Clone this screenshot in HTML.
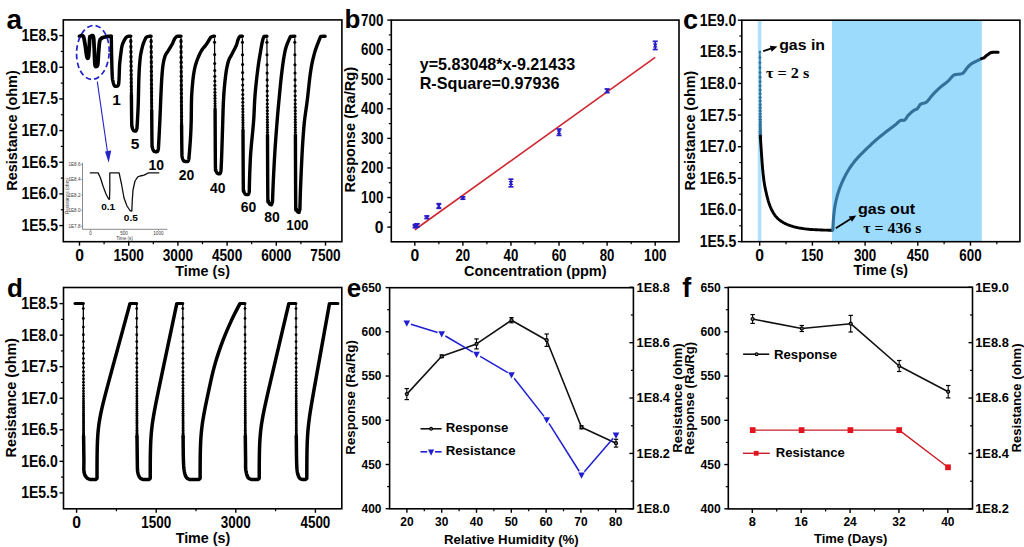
<!DOCTYPE html>
<html><head><meta charset="utf-8"><style>
html,body{margin:0;padding:0;background:#fff;width:1024px;height:547px;overflow:hidden}
svg{display:block}
</style></head><body>
<svg width="1024" height="547" viewBox="0 0 1024 547">
<rect x="0" y="0" width="1024" height="547" fill="#fff"/>
<text x="6.5" y="29.3" font-family='"Liberation Sans", sans-serif' font-size="28" font-weight="bold" text-anchor="start" fill="#000">a</text>
<line x1="59.3" y1="35.6" x2="63.3" y2="35.6" stroke="#000" stroke-width="1.4"/>
<text x="58" y="41.1" font-family='"Liberation Sans", sans-serif' font-size="15.7" font-weight="bold" text-anchor="end" fill="#000" textLength="36.6" lengthAdjust="spacingAndGlyphs">1E8.5</text>
<line x1="59.3" y1="67.27" x2="63.3" y2="67.27" stroke="#000" stroke-width="1.4"/>
<text x="58" y="72.77" font-family='"Liberation Sans", sans-serif' font-size="15.7" font-weight="bold" text-anchor="end" fill="#000" textLength="36.6" lengthAdjust="spacingAndGlyphs">1E8.0</text>
<line x1="59.3" y1="98.93" x2="63.3" y2="98.93" stroke="#000" stroke-width="1.4"/>
<text x="58" y="104.43" font-family='"Liberation Sans", sans-serif' font-size="15.7" font-weight="bold" text-anchor="end" fill="#000" textLength="36.6" lengthAdjust="spacingAndGlyphs">1E7.5</text>
<line x1="59.3" y1="130.59" x2="63.3" y2="130.59" stroke="#000" stroke-width="1.4"/>
<text x="58" y="136.09" font-family='"Liberation Sans", sans-serif' font-size="15.7" font-weight="bold" text-anchor="end" fill="#000" textLength="36.6" lengthAdjust="spacingAndGlyphs">1E7.0</text>
<line x1="59.3" y1="162.26" x2="63.3" y2="162.26" stroke="#000" stroke-width="1.4"/>
<text x="58" y="167.76" font-family='"Liberation Sans", sans-serif' font-size="15.7" font-weight="bold" text-anchor="end" fill="#000" textLength="36.6" lengthAdjust="spacingAndGlyphs">1E6.5</text>
<line x1="59.3" y1="193.92" x2="63.3" y2="193.92" stroke="#000" stroke-width="1.4"/>
<text x="58" y="199.42" font-family='"Liberation Sans", sans-serif' font-size="15.7" font-weight="bold" text-anchor="end" fill="#000" textLength="36.6" lengthAdjust="spacingAndGlyphs">1E6.0</text>
<line x1="59.3" y1="225.59" x2="63.3" y2="225.59" stroke="#000" stroke-width="1.4"/>
<text x="58" y="231.09" font-family='"Liberation Sans", sans-serif' font-size="15.7" font-weight="bold" text-anchor="end" fill="#000" textLength="36.6" lengthAdjust="spacingAndGlyphs">1E5.5</text>
<line x1="60.8" y1="51.43" x2="63.3" y2="51.43" stroke="#000" stroke-width="1.2"/>
<line x1="60.8" y1="83.1" x2="63.3" y2="83.1" stroke="#000" stroke-width="1.2"/>
<line x1="60.8" y1="114.76" x2="63.3" y2="114.76" stroke="#000" stroke-width="1.2"/>
<line x1="60.8" y1="146.43" x2="63.3" y2="146.43" stroke="#000" stroke-width="1.2"/>
<line x1="60.8" y1="178.09" x2="63.3" y2="178.09" stroke="#000" stroke-width="1.2"/>
<line x1="60.8" y1="209.76" x2="63.3" y2="209.76" stroke="#000" stroke-width="1.2"/>
<line x1="79.5" y1="241.7" x2="79.5" y2="245.7" stroke="#000" stroke-width="1.4"/>
<text x="79.5" y="260.9" font-family='"Liberation Sans", sans-serif' font-size="15.7" font-weight="bold" text-anchor="middle" fill="#000">0</text>
<line x1="128.7" y1="241.7" x2="128.7" y2="245.7" stroke="#000" stroke-width="1.4"/>
<text x="128.7" y="260.9" font-family='"Liberation Sans", sans-serif' font-size="15.7" font-weight="bold" text-anchor="middle" fill="#000" textLength="30.3" lengthAdjust="spacingAndGlyphs">1500</text>
<line x1="177.9" y1="241.7" x2="177.9" y2="245.7" stroke="#000" stroke-width="1.4"/>
<text x="177.9" y="260.9" font-family='"Liberation Sans", sans-serif' font-size="15.7" font-weight="bold" text-anchor="middle" fill="#000" textLength="30.3" lengthAdjust="spacingAndGlyphs">3000</text>
<line x1="227.1" y1="241.7" x2="227.1" y2="245.7" stroke="#000" stroke-width="1.4"/>
<text x="227.1" y="260.9" font-family='"Liberation Sans", sans-serif' font-size="15.7" font-weight="bold" text-anchor="middle" fill="#000" textLength="30.3" lengthAdjust="spacingAndGlyphs">4500</text>
<line x1="276.3" y1="241.7" x2="276.3" y2="245.7" stroke="#000" stroke-width="1.4"/>
<text x="276.3" y="260.9" font-family='"Liberation Sans", sans-serif' font-size="15.7" font-weight="bold" text-anchor="middle" fill="#000" textLength="30.3" lengthAdjust="spacingAndGlyphs">6000</text>
<line x1="325.5" y1="241.7" x2="325.5" y2="245.7" stroke="#000" stroke-width="1.4"/>
<text x="325.5" y="260.9" font-family='"Liberation Sans", sans-serif' font-size="15.7" font-weight="bold" text-anchor="middle" fill="#000" textLength="30.3" lengthAdjust="spacingAndGlyphs">7500</text>
<line x1="104.1" y1="241.7" x2="104.1" y2="244.2" stroke="#000" stroke-width="1.2"/>
<line x1="153.3" y1="241.7" x2="153.3" y2="244.2" stroke="#000" stroke-width="1.2"/>
<line x1="202.5" y1="241.7" x2="202.5" y2="244.2" stroke="#000" stroke-width="1.2"/>
<line x1="251.7" y1="241.7" x2="251.7" y2="244.2" stroke="#000" stroke-width="1.2"/>
<line x1="300.9" y1="241.7" x2="300.9" y2="244.2" stroke="#000" stroke-width="1.2"/>
<text x="202.6" y="275.6" font-family='"Liberation Sans", sans-serif' font-size="14.4" font-weight="bold" text-anchor="middle" fill="#000" textLength="54.7" lengthAdjust="spacingAndGlyphs">Time (s)</text>
<text x="16.6" y="130.5" font-family='"Liberation Sans", sans-serif' font-size="14.4" font-weight="bold" text-anchor="middle" fill="#000" textLength="120.5" lengthAdjust="spacingAndGlyphs" transform="rotate(-90 16.6 130.5)">Resistance (ohm)</text>
<path d="M79.5 36.2 L80.2 35.97 L81.22 35.59 L82.3 35.51 L83.2 36.2 L83.85 37.94 L84.39 40.44 L84.85 43.27 L85.3 46 L85.72 48.8 L86.09 51.8 L86.44 54.53 L86.8 56.5 L87.19 57.66 L87.59 58.25 L87.97 58.21 L88.3 57.5 L88.57 55.89 L88.81 53.47 L89.01 50.69 L89.2 48 L89.36 45.22 L89.49 42.22 L89.63 39.48 L89.8 37.5 L89.99 36.56 L90.18 36.34 L90.44 36.46 L90.8 36.5 L91.36 36.16 L92.06 35.72 L92.75 35.67 L93.3 36.5 L93.64 38.45 L93.86 41.22 L94.02 44.5 L94.2 48 L94.39 52.12 L94.56 56.86 L94.75 61.29 L95 64.5 L95.33 66.08 L95.72 66.57 L96.12 66.48 L96.5 66.3 L96.85 66.24 L97.19 66.01 L97.51 65.35 L97.8 64 L98.03 61.66 L98.21 58.54 L98.39 55.16 L98.6 52 L98.84 48.98 L99.09 45.91 L99.37 43.14 L99.7 41 L100.11 39.72 L100.58 39.07 L101.05 38.73 L101.5 38.4 L101.84 38.06 L102.11 37.84 L102.46 37.69 L103 37.5 L103.82 37.26 L104.83 37.01 L105.93 36.78 L107 36.6 L108.13 36.48 L109.35 36.39 L110.44 36.34 L111.2 36.3" fill="none" stroke="#000" stroke-width="3.8" stroke-linejoin="round" stroke-linecap="round"/>
<path d="M111.3 36.3 L111.33 38.32 L111.37 41.1 L111.41 44.4 L111.47 47.98 L111.53 51.59 L111.6 55 L111.68 58.41 L111.77 62.07 L111.87 65.76 L111.97 69.29 L112.08 72.43 L112.2 75 L112.31 76.89 L112.43 78.25 L112.54 79.23 L112.67 80 L112.82 80.7 L113 81.5 L113.2 82.39 L113.43 83.24 L113.67 84.03 L113.94 84.73 L114.21 85.33 L114.5 85.8 L114.81 86.12 L115.14 86.31 L115.48 86.4 L115.83 86.41 L116.17 86.36 L116.5 86.3 L116.82 86.23 L117.16 86.14 L117.48 85.99 L117.79 85.77 L118.07 85.45 L118.3 85 L118.48 84.5 L118.62 83.98 L118.72 83.36 L118.81 82.54 L118.9 81.45 L119 80 L119.1 78.03 L119.19 75.59 L119.27 72.88 L119.36 70.07 L119.47 67.38 L119.6 65 L119.77 62.9 L119.96 60.93 L120.16 59.06 L120.38 57.3 L120.59 55.61 L120.8 54 L120.99 52.45 L121.18 50.98 L121.37 49.59 L121.56 48.3 L121.77 47.1 L122 46 L122.25 45.03 L122.53 44.19 L122.81 43.45 L123.11 42.77 L123.41 42.13 L123.7 41.5 L123.99 40.88 L124.29 40.29 L124.58 39.73 L124.88 39.21 L125.19 38.74 L125.5 38.3 L125.81 37.9 L126.1 37.54 L126.41 37.21 L126.73 36.93 L127.09 36.69 L127.5 36.5 L128.01 36.37 L128.63 36.31 L129.28 36.29 L129.9 36.29 L130.43 36.3 L130.8 36.3" fill="none" stroke="#000" stroke-width="3.4" stroke-linejoin="round" stroke-linecap="round"/>
<text x="116.5" y="104.8" font-family='"Liberation Sans", sans-serif' font-size="15.5" font-weight="bold" text-anchor="middle" fill="#000">1</text>
<line x1="130.8" y1="38.3" x2="131.4" y2="95" stroke="#000" stroke-width="1.7"/>
<ellipse cx="130.83" cy="41.3" rx="1.6" ry="2.5" fill="#000"/>
<ellipse cx="130.89" cy="46.68" rx="1.6" ry="2.5" fill="#000"/>
<ellipse cx="130.94" cy="51.84" rx="1.6" ry="2.5" fill="#000"/>
<ellipse cx="131" cy="56.79" rx="1.6" ry="2.5" fill="#000"/>
<ellipse cx="131.05" cy="61.54" rx="1.6" ry="2.5" fill="#000"/>
<ellipse cx="131.09" cy="66.1" rx="1.6" ry="2.5" fill="#000"/>
<ellipse cx="131.14" cy="70.47" rx="1.6" ry="2.5" fill="#000"/>
<ellipse cx="131.18" cy="74.66" rx="1.6" ry="2.5" fill="#000"/>
<ellipse cx="131.23" cy="78.69" rx="1.6" ry="2.5" fill="#000"/>
<ellipse cx="131.27" cy="82.55" rx="1.6" ry="2.5" fill="#000"/>
<ellipse cx="131.31" cy="86.26" rx="1.6" ry="2.5" fill="#000"/>
<ellipse cx="131.35" cy="89.81" rx="1.6" ry="2.5" fill="#000"/>
<ellipse cx="131.38" cy="93.22" rx="1.6" ry="2.5" fill="#000"/>
<path d="M131.4 95 L131.43 98.2 L131.47 102.84 L131.53 108.24 L131.58 113.7 L131.64 118.55 L131.7 122.1 L131.75 124.23 L131.79 125.47 L131.84 126.09 L131.9 126.39 L131.98 126.63 L132.1 127.1 L132.26 127.77 L132.46 128.39 L132.68 128.96 L132.91 129.48 L133.16 129.93 L133.4 130.3 L133.66 130.58 L133.93 130.79 L134.21 130.92 L134.49 131 L134.76 131.06 L135 131.1 L135.21 131.14 L135.41 131.17 L135.59 131.17 L135.77 131.12 L135.93 131 L136.1 130.8 L136.27 130.46 L136.45 129.98 L136.62 129.43 L136.77 128.89 L136.9 128.42 L137 128.1 L137.09 126.6 L137.18 125.1 L137.27 123.6 L137.36 122.1 L137.45 120.6 L137.53 119.1 L137.61 117.6 L137.69 116.1 L137.77 114.6 L137.84 113.1 L137.92 111.6 L137.98 110.1 L138.05 108.6 L138.11 107.1 L138.17 105.6 L138.22 104.1 L138.27 102.6 L138.32 101.1 L138.36 99.6 L138.4 98.1 L138.43 96.6 L138.47 95.1 L138.5 93.6 L138.53 92.1 L138.56 90.6 L138.59 89.1 L138.63 87.6 L138.66 86.1 L138.69 84.6 L138.73 83.1 L138.77 81.6 L138.81 80.1 L138.86 78.6 L138.91 77.1 L138.97 75.6 L139.03 74.1 L139.1 72.6 L139.17 71.1 L139.26 69.6 L139.35 68.1 L139.45 66.6 L139.56 65.1 L139.68 63.6 L139.81 62.1 L139.95 60.6 L140.09 59.1 L140.26 57.6 L140.45 56.1 L140.69 54.6 L140.96 53.1 L141.26 51.6 L141.58 50.1 L141.93 48.6 L142.3 47.1 L142.7 45.6 L143.15 44.1 L143.68 42.6 L144.29 41.1 L144.96 39.6 L145.66 38.1 L147.3 36.6 L149 36.3 L151.1 36.3" fill="none" stroke="#000" stroke-width="3.4" stroke-linejoin="round" stroke-linecap="round"/>
<text x="135" y="148.9" font-family='"Liberation Sans", sans-serif' font-size="15.5" font-weight="bold" text-anchor="middle" fill="#000">5</text>
<line x1="151.1" y1="38.3" x2="151.7" y2="110" stroke="#000" stroke-width="1.7"/>
<ellipse cx="151.13" cy="41.3" rx="1.6" ry="2.5" fill="#000"/>
<ellipse cx="151.17" cy="46.7" rx="1.6" ry="2.5" fill="#000"/>
<ellipse cx="151.21" cy="51.93" rx="1.6" ry="2.5" fill="#000"/>
<ellipse cx="151.26" cy="57" rx="1.6" ry="2.5" fill="#000"/>
<ellipse cx="151.3" cy="61.9" rx="1.6" ry="2.5" fill="#000"/>
<ellipse cx="151.34" cy="66.64" rx="1.6" ry="2.5" fill="#000"/>
<ellipse cx="151.38" cy="71.23" rx="1.6" ry="2.5" fill="#000"/>
<ellipse cx="151.41" cy="75.67" rx="1.6" ry="2.5" fill="#000"/>
<ellipse cx="151.45" cy="79.98" rx="1.6" ry="2.5" fill="#000"/>
<ellipse cx="151.48" cy="84.14" rx="1.6" ry="2.5" fill="#000"/>
<ellipse cx="151.52" cy="88.17" rx="1.6" ry="2.5" fill="#000"/>
<ellipse cx="151.55" cy="92.07" rx="1.6" ry="2.5" fill="#000"/>
<ellipse cx="151.58" cy="95.84" rx="1.6" ry="2.5" fill="#000"/>
<ellipse cx="151.61" cy="99.5" rx="1.6" ry="2.5" fill="#000"/>
<ellipse cx="151.64" cy="103.03" rx="1.6" ry="2.5" fill="#000"/>
<ellipse cx="151.67" cy="106.46" rx="1.6" ry="2.5" fill="#000"/>
<path d="M151.7 110 L151.73 113.88 L151.77 119.5 L151.82 126.04 L151.88 132.64 L151.94 138.47 L152 142.7 L152.05 145.16 L152.09 146.49 L152.14 147.04 L152.2 147.19 L152.28 147.29 L152.4 147.7 L152.56 148.37 L152.76 148.99 L152.97 149.56 L153.21 150.08 L153.46 150.53 L153.7 150.9 L153.94 151.18 L154.19 151.39 L154.44 151.52 L154.71 151.6 L155 151.66 L155.3 151.7 L155.65 151.74 L156.04 151.77 L156.44 151.77 L156.84 151.72 L157.2 151.6 L157.5 151.4 L157.74 151.06 L157.93 150.58 L158.09 150.03 L158.21 149.49 L158.32 149.02 L158.4 148.7 L158.49 147.2 L158.57 145.7 L158.66 144.2 L158.74 142.7 L158.83 141.2 L158.91 139.7 L158.99 138.2 L159.07 136.7 L159.15 135.2 L159.22 133.7 L159.3 132.2 L159.38 130.7 L159.45 129.2 L159.52 127.7 L159.6 126.2 L159.67 124.7 L159.74 123.2 L159.81 121.7 L159.88 120.2 L159.95 118.7 L160.01 117.2 L160.08 115.7 L160.14 114.2 L160.21 112.7 L160.27 111.2 L160.33 109.7 L160.38 108.2 L160.44 106.7 L160.49 105.2 L160.55 103.7 L160.61 102.2 L160.67 100.7 L160.74 99.2 L160.8 97.7 L160.87 96.2 L160.94 94.7 L161 93.2 L161.07 91.7 L161.14 90.2 L161.21 88.7 L161.28 87.2 L161.36 85.7 L161.43 84.2 L161.52 82.7 L161.6 81.2 L161.7 79.7 L161.79 78.2 L161.9 76.7 L162.01 75.2 L162.12 73.7 L162.25 72.2 L162.38 70.7 L162.52 69.2 L162.67 67.7 L162.85 66.2 L163.06 64.7 L163.31 63.2 L163.59 61.7 L163.92 60.2 L164.28 58.7 L164.7 57.2 L165.17 55.7 L165.86 54.2 L166.87 52.7 L167.94 51.2 L168.89 49.7 L169.81 48.2 L170.71 46.7 L171.59 45.2 L172.41 43.7 L173.09 42.2 L173.71 40.7 L174.43 39.2 L175.4 37.7 L177 36.3 L181 36.3" fill="none" stroke="#000" stroke-width="3.4" stroke-linejoin="round" stroke-linecap="round"/>
<text x="156.3" y="169.8" font-family='"Liberation Sans", sans-serif' font-size="15.5" font-weight="bold" text-anchor="middle" fill="#000" textLength="15.5" lengthAdjust="spacingAndGlyphs">10</text>
<line x1="181" y1="38.3" x2="181.6" y2="125" stroke="#000" stroke-width="1.7"/>
<ellipse cx="181.02" cy="41.3" rx="1.6" ry="2.5" fill="#000"/>
<ellipse cx="181.06" cy="46.72" rx="1.6" ry="2.5" fill="#000"/>
<ellipse cx="181.09" cy="52" rx="1.6" ry="2.5" fill="#000"/>
<ellipse cx="181.13" cy="57.13" rx="1.6" ry="2.5" fill="#000"/>
<ellipse cx="181.16" cy="62.13" rx="1.6" ry="2.5" fill="#000"/>
<ellipse cx="181.2" cy="67" rx="1.6" ry="2.5" fill="#000"/>
<ellipse cx="181.23" cy="71.74" rx="1.6" ry="2.5" fill="#000"/>
<ellipse cx="181.26" cy="76.35" rx="1.6" ry="2.5" fill="#000"/>
<ellipse cx="181.29" cy="80.84" rx="1.6" ry="2.5" fill="#000"/>
<ellipse cx="181.32" cy="85.22" rx="1.6" ry="2.5" fill="#000"/>
<ellipse cx="181.35" cy="89.47" rx="1.6" ry="2.5" fill="#000"/>
<ellipse cx="181.38" cy="93.61" rx="1.6" ry="2.5" fill="#000"/>
<ellipse cx="181.41" cy="97.65" rx="1.6" ry="2.5" fill="#000"/>
<ellipse cx="181.44" cy="101.57" rx="1.6" ry="2.5" fill="#000"/>
<ellipse cx="181.46" cy="105.39" rx="1.6" ry="2.5" fill="#000"/>
<ellipse cx="181.49" cy="109.11" rx="1.6" ry="2.5" fill="#000"/>
<ellipse cx="181.52" cy="112.73" rx="1.6" ry="2.5" fill="#000"/>
<ellipse cx="181.54" cy="116.26" rx="1.6" ry="2.5" fill="#000"/>
<ellipse cx="181.56" cy="119.69" rx="1.6" ry="2.5" fill="#000"/>
<ellipse cx="181.59" cy="123.03" rx="1.6" ry="2.5" fill="#000"/>
<path d="M181.6 125 L181.63 128.25 L181.67 132.96 L181.72 138.44 L181.78 143.98 L181.84 148.9 L181.9 152.5 L181.95 154.66 L181.99 155.9 L182.04 156.52 L182.1 156.8 L182.18 157.03 L182.3 157.5 L182.46 158.17 L182.66 158.79 L182.88 159.36 L183.11 159.88 L183.36 160.33 L183.6 160.7 L183.84 160.98 L184.07 161.19 L184.31 161.32 L184.57 161.4 L184.86 161.46 L185.2 161.5 L185.62 161.54 L186.11 161.57 L186.64 161.57 L187.16 161.52 L187.63 161.4 L188 161.2 L188.27 160.86 L188.47 160.38 L188.62 159.83 L188.74 159.29 L188.82 158.82 L188.9 158.5 L189.04 157 L189.17 155.5 L189.3 154 L189.43 152.5 L189.55 151 L189.67 149.5 L189.79 148 L189.91 146.5 L190.02 145 L190.12 143.5 L190.23 142 L190.33 140.5 L190.42 139 L190.51 137.5 L190.6 136 L190.68 134.5 L190.76 133 L190.83 131.5 L190.9 130 L190.97 128.5 L191.02 127 L191.08 125.5 L191.12 124 L191.16 122.5 L191.2 121 L191.23 119.5 L191.26 118 L191.28 116.5 L191.3 115 L191.31 113.5 L191.33 112 L191.34 110.5 L191.36 109 L191.38 107.5 L191.39 106 L191.41 104.5 L191.44 103 L191.47 101.5 L191.5 100 L191.54 98.5 L191.6 97 L191.67 95.5 L191.75 94 L191.85 92.5 L191.95 91 L192.06 89.5 L192.18 88 L192.31 86.5 L192.44 85 L192.58 83.5 L192.72 82 L192.87 80.5 L193.03 79 L193.21 77.5 L193.41 76 L193.62 74.5 L193.86 73 L194.11 71.5 L194.39 70 L194.68 68.5 L195.01 67 L195.4 65.5 L195.85 64 L196.33 62.5 L196.85 61 L197.4 59.5 L197.98 58 L198.59 56.5 L199.24 55 L199.95 53.5 L200.73 52 L201.59 50.5 L202.53 49 L203.77 47.5 L205.12 46 L206.24 44.5 L207.23 43 L208.17 41.5 L209.13 40 L209.94 38.5 L210.96 37 L213 36.3 L214.5 36.3" fill="none" stroke="#000" stroke-width="3.4" stroke-linejoin="round" stroke-linecap="round"/>
<text x="186.5" y="179.5" font-family='"Liberation Sans", sans-serif' font-size="15.5" font-weight="bold" text-anchor="middle" fill="#000" textLength="15.5" lengthAdjust="spacingAndGlyphs">20</text>
<line x1="214.5" y1="38.3" x2="215.1" y2="110" stroke="#000" stroke-width="1.25"/>
<circle cx="214.53" cy="42.3" r="1.55" fill="#000" stroke="none" stroke-width="0"/>
<circle cx="214.64" cy="54.51" r="1.55" fill="#000" stroke="none" stroke-width="0"/>
<circle cx="214.71" cy="63.5" r="1.55" fill="#000" stroke="none" stroke-width="0"/>
<circle cx="214.77" cy="70.52" r="1.55" fill="#000" stroke="none" stroke-width="0"/>
<circle cx="214.82" cy="76.26" r="1.55" fill="#000" stroke="none" stroke-width="0"/>
<circle cx="214.86" cy="81.09" r="1.55" fill="#000" stroke="none" stroke-width="0"/>
<circle cx="214.89" cy="85.28" r="1.55" fill="#000" stroke="none" stroke-width="0"/>
<circle cx="214.92" cy="88.99" r="1.55" fill="#000" stroke="none" stroke-width="0"/>
<circle cx="214.95" cy="92.33" r="1.55" fill="#000" stroke="none" stroke-width="0"/>
<circle cx="214.98" cy="95.4" r="1.55" fill="#000" stroke="none" stroke-width="0"/>
<circle cx="215" cy="98.26" r="1.55" fill="#000" stroke="none" stroke-width="0"/>
<circle cx="215.02" cy="100.95" r="1.55" fill="#000" stroke="none" stroke-width="0"/>
<circle cx="215.05" cy="103.53" r="1.55" fill="#000" stroke="none" stroke-width="0"/>
<circle cx="215.07" cy="106.02" r="1.55" fill="#000" stroke="none" stroke-width="0"/>
<circle cx="215.09" cy="108.45" r="1.55" fill="#000" stroke="none" stroke-width="0"/>
<path d="M215.1 110 L215.13 116.54 L215.17 126.05 L215.22 137.09 L215.28 148.19 L215.34 157.91 L215.4 164.8 L215.45 168.54 L215.49 170.22 L215.54 170.53 L215.6 170.11 L215.68 169.65 L215.8 169.8 L215.96 170.47 L216.16 171.09 L216.38 171.66 L216.61 172.18 L216.86 172.63 L217.1 173 L217.35 173.28 L217.62 173.49 L217.89 173.62 L218.17 173.7 L218.44 173.76 L218.7 173.8 L218.95 173.84 L219.2 173.87 L219.44 173.87 L219.68 173.82 L219.9 173.7 L220.1 173.5 L220.29 173.16 L220.47 172.68 L220.64 172.13 L220.79 171.59 L220.91 171.12 L221 170.8 L221.07 169.3 L221.15 167.8 L221.22 166.3 L221.29 164.8 L221.36 163.3 L221.43 161.8 L221.49 160.3 L221.55 158.8 L221.6 157.3 L221.66 155.8 L221.71 154.3 L221.77 152.8 L221.82 151.3 L221.87 149.8 L221.92 148.3 L221.97 146.8 L222.01 145.3 L222.06 143.8 L222.11 142.3 L222.16 140.8 L222.2 139.3 L222.25 137.8 L222.3 136.3 L222.34 134.8 L222.39 133.3 L222.44 131.8 L222.49 130.3 L222.54 128.8 L222.59 127.3 L222.63 125.8 L222.68 124.3 L222.72 122.8 L222.76 121.3 L222.8 119.8 L222.85 118.3 L222.89 116.8 L222.93 115.3 L222.98 113.8 L223.02 112.3 L223.07 110.8 L223.12 109.3 L223.17 107.8 L223.23 106.3 L223.29 104.8 L223.35 103.3 L223.41 101.8 L223.49 100.3 L223.56 98.8 L223.64 97.3 L223.74 95.8 L223.83 94.3 L223.94 92.8 L224.05 91.3 L224.17 89.8 L224.29 88.3 L224.43 86.8 L224.57 85.3 L224.71 83.8 L224.87 82.3 L225.03 80.8 L225.2 79.3 L225.38 77.8 L225.56 76.3 L225.75 74.8 L225.95 73.3 L226.16 71.8 L226.38 70.3 L226.64 68.8 L226.92 67.3 L227.24 65.8 L227.59 64.3 L227.99 62.8 L228.42 61.3 L228.92 59.8 L229.6 58.3 L230.39 56.8 L231.25 55.3 L232.08 53.8 L232.86 52.3 L233.65 50.8 L234.44 49.3 L235.21 47.8 L235.92 46.3 L236.53 44.8 L237.01 43.3 L237.42 41.8 L237.85 40.3 L238.39 38.8 L239.15 37.3 L240 36.3 L242.4 36.3" fill="none" stroke="#000" stroke-width="3.4" stroke-linejoin="round" stroke-linecap="round"/>
<text x="217.8" y="192.7" font-family='"Liberation Sans", sans-serif' font-size="15.5" font-weight="bold" text-anchor="middle" fill="#000" textLength="15.5" lengthAdjust="spacingAndGlyphs">40</text>
<line x1="242.4" y1="38.3" x2="243" y2="130" stroke="#000" stroke-width="1.25"/>
<circle cx="242.43" cy="42.3" r="1.55" fill="#000" stroke="none" stroke-width="0"/>
<circle cx="242.51" cy="54.76" r="1.55" fill="#000" stroke="none" stroke-width="0"/>
<circle cx="242.57" cy="64.57" r="1.55" fill="#000" stroke="none" stroke-width="0"/>
<circle cx="242.62" cy="72.57" r="1.55" fill="#000" stroke="none" stroke-width="0"/>
<circle cx="242.67" cy="79.28" r="1.55" fill="#000" stroke="none" stroke-width="0"/>
<circle cx="242.71" cy="85.05" r="1.55" fill="#000" stroke="none" stroke-width="0"/>
<circle cx="242.74" cy="90.09" r="1.55" fill="#000" stroke="none" stroke-width="0"/>
<circle cx="242.77" cy="94.57" r="1.55" fill="#000" stroke="none" stroke-width="0"/>
<circle cx="242.79" cy="98.62" r="1.55" fill="#000" stroke="none" stroke-width="0"/>
<circle cx="242.82" cy="102.3" r="1.55" fill="#000" stroke="none" stroke-width="0"/>
<circle cx="242.84" cy="105.71" r="1.55" fill="#000" stroke="none" stroke-width="0"/>
<circle cx="242.86" cy="108.88" r="1.55" fill="#000" stroke="none" stroke-width="0"/>
<circle cx="242.88" cy="111.86" r="1.55" fill="#000" stroke="none" stroke-width="0"/>
<circle cx="242.9" cy="114.69" r="1.55" fill="#000" stroke="none" stroke-width="0"/>
<circle cx="242.92" cy="117.4" r="1.55" fill="#000" stroke="none" stroke-width="0"/>
<circle cx="242.93" cy="120.01" r="1.55" fill="#000" stroke="none" stroke-width="0"/>
<circle cx="242.95" cy="122.54" r="1.55" fill="#000" stroke="none" stroke-width="0"/>
<circle cx="242.97" cy="125.01" r="1.55" fill="#000" stroke="none" stroke-width="0"/>
<circle cx="242.98" cy="127.44" r="1.55" fill="#000" stroke="none" stroke-width="0"/>
<path d="M243 130 L243.03 136.63 L243.07 146.29 L243.12 157.49 L243.18 168.76 L243.24 178.62 L243.3 185.6 L243.35 189.38 L243.39 191.08 L243.44 191.38 L243.5 190.94 L243.58 190.46 L243.7 190.6 L243.86 191.27 L244.06 191.89 L244.28 192.46 L244.51 192.98 L244.76 193.43 L245 193.8 L245.25 194.08 L245.5 194.29 L245.77 194.42 L246.04 194.5 L246.32 194.56 L246.6 194.6 L246.9 194.64 L247.22 194.67 L247.54 194.67 L247.86 194.62 L248.15 194.5 L248.4 194.3 L248.61 193.96 L248.8 193.48 L248.96 192.93 L249.1 192.39 L249.21 191.92 L249.3 191.6 L249.32 190.1 L249.34 188.6 L249.36 187.1 L249.39 185.6 L249.43 184.1 L249.46 182.6 L249.5 181.1 L249.54 179.6 L249.59 178.1 L249.64 176.6 L249.69 175.1 L249.74 173.6 L249.79 172.1 L249.85 170.6 L249.91 169.1 L249.97 167.6 L250.03 166.1 L250.1 164.6 L250.16 163.1 L250.23 161.6 L250.3 160.1 L250.37 158.6 L250.45 157.1 L250.54 155.6 L250.64 154.1 L250.74 152.6 L250.86 151.1 L250.98 149.6 L251.11 148.1 L251.24 146.6 L251.37 145.1 L251.51 143.6 L251.65 142.1 L251.8 140.6 L251.95 139.1 L252.09 137.6 L252.24 136.1 L252.39 134.6 L252.54 133.1 L252.68 131.6 L252.83 130.1 L252.97 128.6 L253.1 127.1 L253.23 125.6 L253.36 124.1 L253.48 122.6 L253.6 121.1 L253.71 119.6 L253.81 118.1 L253.9 116.6 L253.98 115.1 L254.06 113.6 L254.13 112.1 L254.19 110.6 L254.26 109.1 L254.32 107.6 L254.38 106.1 L254.45 104.6 L254.53 103.1 L254.61 101.6 L254.69 100.1 L254.79 98.6 L254.9 97.1 L255.01 95.6 L255.13 94.1 L255.25 92.6 L255.38 91.1 L255.52 89.6 L255.66 88.1 L255.81 86.6 L255.96 85.1 L256.12 83.6 L256.28 82.1 L256.44 80.6 L256.61 79.1 L256.78 77.6 L256.96 76.1 L257.14 74.6 L257.32 73.1 L257.5 71.6 L257.69 70.1 L257.87 68.6 L258.07 67.1 L258.27 65.6 L258.49 64.1 L258.71 62.6 L258.94 61.1 L259.18 59.6 L259.42 58.1 L259.67 56.6 L259.93 55.1 L260.19 53.6 L260.45 52.1 L260.71 50.6 L260.95 49.1 L261.2 47.6 L261.46 46.1 L261.73 44.6 L262.02 43.1 L262.35 41.6 L262.71 40.1 L263.12 38.6 L263.7 37.1 L264 36.4 L266.9 36.3" fill="none" stroke="#000" stroke-width="3.4" stroke-linejoin="round" stroke-linecap="round"/>
<text x="248.4" y="211.6" font-family='"Liberation Sans", sans-serif' font-size="15.5" font-weight="bold" text-anchor="middle" fill="#000" textLength="15.5" lengthAdjust="spacingAndGlyphs">60</text>
<line x1="266.9" y1="38.3" x2="267.5" y2="135" stroke="#000" stroke-width="1.25"/>
<circle cx="266.92" cy="42.3" r="1.55" fill="#000" stroke="none" stroke-width="0"/>
<circle cx="267" cy="54.81" r="1.55" fill="#000" stroke="none" stroke-width="0"/>
<circle cx="267.06" cy="64.77" r="1.55" fill="#000" stroke="none" stroke-width="0"/>
<circle cx="267.12" cy="72.98" r="1.55" fill="#000" stroke="none" stroke-width="0"/>
<circle cx="267.16" cy="79.9" r="1.55" fill="#000" stroke="none" stroke-width="0"/>
<circle cx="267.2" cy="85.87" r="1.55" fill="#000" stroke="none" stroke-width="0"/>
<circle cx="267.23" cy="91.11" r="1.55" fill="#000" stroke="none" stroke-width="0"/>
<circle cx="267.26" cy="95.78" r="1.55" fill="#000" stroke="none" stroke-width="0"/>
<circle cx="267.28" cy="99.99" r="1.55" fill="#000" stroke="none" stroke-width="0"/>
<circle cx="267.31" cy="103.83" r="1.55" fill="#000" stroke="none" stroke-width="0"/>
<circle cx="267.33" cy="107.37" r="1.55" fill="#000" stroke="none" stroke-width="0"/>
<circle cx="267.35" cy="110.67" r="1.55" fill="#000" stroke="none" stroke-width="0"/>
<circle cx="267.37" cy="113.77" r="1.55" fill="#000" stroke="none" stroke-width="0"/>
<circle cx="267.39" cy="116.7" r="1.55" fill="#000" stroke="none" stroke-width="0"/>
<circle cx="267.4" cy="119.49" r="1.55" fill="#000" stroke="none" stroke-width="0"/>
<circle cx="267.42" cy="122.17" r="1.55" fill="#000" stroke="none" stroke-width="0"/>
<circle cx="267.44" cy="124.77" r="1.55" fill="#000" stroke="none" stroke-width="0"/>
<circle cx="267.45" cy="127.29" r="1.55" fill="#000" stroke="none" stroke-width="0"/>
<circle cx="267.47" cy="129.76" r="1.55" fill="#000" stroke="none" stroke-width="0"/>
<circle cx="267.48" cy="132.19" r="1.55" fill="#000" stroke="none" stroke-width="0"/>
<path d="M267.5 135 L267.53 142.25 L267.57 152.8 L267.62 165.04 L267.68 177.34 L267.74 188.1 L267.8 195.7 L267.85 199.78 L267.89 201.56 L267.94 201.79 L268 201.23 L268.08 200.62 L268.2 200.7 L268.36 201.37 L268.56 201.99 L268.77 202.56 L269.01 203.08 L269.26 203.53 L269.5 203.9 L269.76 204.18 L270.05 204.39 L270.35 204.52 L270.64 204.6 L270.89 204.66 L271.1 204.7 L271.24 204.74 L271.33 204.77 L271.39 204.77 L271.44 204.72 L271.51 204.6 L271.6 204.4 L271.74 204.06 L271.9 203.58 L272.08 203.03 L272.25 202.49 L272.4 202.02 L272.5 201.7 L272.55 200.2 L272.6 198.7 L272.66 197.2 L272.71 195.7 L272.77 194.2 L272.82 192.7 L272.88 191.2 L272.95 189.7 L273.01 188.2 L273.07 186.7 L273.14 185.2 L273.2 183.7 L273.27 182.2 L273.34 180.7 L273.41 179.2 L273.48 177.7 L273.55 176.2 L273.63 174.7 L273.7 173.2 L273.78 171.7 L273.85 170.2 L273.93 168.7 L274.01 167.2 L274.09 165.7 L274.17 164.2 L274.25 162.7 L274.33 161.2 L274.42 159.7 L274.5 158.2 L274.59 156.7 L274.68 155.2 L274.77 153.7 L274.86 152.2 L274.96 150.7 L275.05 149.2 L275.15 147.7 L275.25 146.2 L275.36 144.7 L275.46 143.2 L275.57 141.7 L275.67 140.2 L275.78 138.7 L275.89 137.2 L276 135.7 L276.11 134.2 L276.23 132.7 L276.34 131.2 L276.46 129.7 L276.57 128.2 L276.69 126.7 L276.81 125.2 L276.93 123.7 L277.05 122.2 L277.17 120.7 L277.29 119.2 L277.41 117.7 L277.53 116.2 L277.66 114.7 L277.78 113.2 L277.91 111.7 L278.05 110.2 L278.18 108.7 L278.32 107.2 L278.46 105.7 L278.6 104.2 L278.74 102.7 L278.88 101.2 L279.03 99.7 L279.17 98.2 L279.31 96.7 L279.46 95.2 L279.6 93.7 L279.74 92.2 L279.88 90.7 L280.02 89.2 L280.17 87.7 L280.32 86.2 L280.46 84.7 L280.61 83.2 L280.77 81.7 L280.92 80.2 L281.08 78.7 L281.25 77.2 L281.41 75.7 L281.58 74.2 L281.76 72.7 L281.94 71.2 L282.13 69.7 L282.33 68.2 L282.52 66.7 L282.72 65.2 L282.92 63.7 L283.13 62.2 L283.35 60.7 L283.58 59.2 L283.82 57.7 L284.07 56.2 L284.34 54.7 L284.63 53.2 L284.94 51.7 L285.27 50.2 L285.63 48.7 L286.06 47.2 L286.56 45.7 L287.13 44.2 L287.73 42.7 L288.37 41.2 L289 39.7 L289.65 38.2 L290.36 36.7 L290.5 36.4 L294.8 36.3" fill="none" stroke="#000" stroke-width="3.4" stroke-linejoin="round" stroke-linecap="round"/>
<text x="272.1" y="222.3" font-family='"Liberation Sans", sans-serif' font-size="15.5" font-weight="bold" text-anchor="middle" fill="#000" textLength="15.5" lengthAdjust="spacingAndGlyphs">80</text>
<line x1="294.8" y1="38.3" x2="295.4" y2="135" stroke="#000" stroke-width="1.25"/>
<circle cx="294.82" cy="42.3" r="1.55" fill="#000" stroke="none" stroke-width="0"/>
<circle cx="294.9" cy="54.81" r="1.55" fill="#000" stroke="none" stroke-width="0"/>
<circle cx="294.96" cy="64.77" r="1.55" fill="#000" stroke="none" stroke-width="0"/>
<circle cx="295.02" cy="72.98" r="1.55" fill="#000" stroke="none" stroke-width="0"/>
<circle cx="295.06" cy="79.9" r="1.55" fill="#000" stroke="none" stroke-width="0"/>
<circle cx="295.1" cy="85.87" r="1.55" fill="#000" stroke="none" stroke-width="0"/>
<circle cx="295.13" cy="91.11" r="1.55" fill="#000" stroke="none" stroke-width="0"/>
<circle cx="295.16" cy="95.78" r="1.55" fill="#000" stroke="none" stroke-width="0"/>
<circle cx="295.18" cy="99.99" r="1.55" fill="#000" stroke="none" stroke-width="0"/>
<circle cx="295.21" cy="103.83" r="1.55" fill="#000" stroke="none" stroke-width="0"/>
<circle cx="295.23" cy="107.37" r="1.55" fill="#000" stroke="none" stroke-width="0"/>
<circle cx="295.25" cy="110.67" r="1.55" fill="#000" stroke="none" stroke-width="0"/>
<circle cx="295.27" cy="113.77" r="1.55" fill="#000" stroke="none" stroke-width="0"/>
<circle cx="295.29" cy="116.7" r="1.55" fill="#000" stroke="none" stroke-width="0"/>
<circle cx="295.3" cy="119.49" r="1.55" fill="#000" stroke="none" stroke-width="0"/>
<circle cx="295.32" cy="122.17" r="1.55" fill="#000" stroke="none" stroke-width="0"/>
<circle cx="295.34" cy="124.77" r="1.55" fill="#000" stroke="none" stroke-width="0"/>
<circle cx="295.35" cy="127.29" r="1.55" fill="#000" stroke="none" stroke-width="0"/>
<circle cx="295.37" cy="129.76" r="1.55" fill="#000" stroke="none" stroke-width="0"/>
<circle cx="295.38" cy="132.19" r="1.55" fill="#000" stroke="none" stroke-width="0"/>
<path d="M295.4 135 L295.43 143.18 L295.47 155.08 L295.53 168.89 L295.58 182.76 L295.64 194.88 L295.7 203.4 L295.75 207.92 L295.79 209.83 L295.84 209.97 L295.9 209.21 L295.98 208.4 L296.1 208.4 L296.26 209.07 L296.46 209.69 L296.68 210.26 L296.91 210.78 L297.16 211.23 L297.4 211.6 L297.67 211.88 L297.97 212.09 L298.28 212.22 L298.57 212.3 L298.82 212.36 L299 212.4 L299.08 212.44 L299.09 212.47 L299.04 212.47 L298.99 212.42 L298.97 212.3 L299 212.1 L299.11 211.76 L299.27 211.28 L299.45 210.73 L299.63 210.19 L299.79 209.72 L299.9 209.4 L299.93 207.9 L299.97 206.4 L300.01 204.9 L300.05 203.4 L300.09 201.9 L300.13 200.4 L300.18 198.9 L300.22 197.4 L300.27 195.9 L300.32 194.4 L300.37 192.9 L300.42 191.4 L300.48 189.9 L300.53 188.4 L300.59 186.9 L300.64 185.4 L300.7 183.9 L300.76 182.4 L300.82 180.9 L300.89 179.4 L300.95 177.9 L301.01 176.4 L301.08 174.9 L301.14 173.4 L301.21 171.9 L301.28 170.4 L301.35 168.9 L301.42 167.4 L301.49 165.9 L301.56 164.4 L301.63 162.9 L301.7 161.4 L301.77 159.9 L301.85 158.4 L301.92 156.9 L302 155.4 L302.08 153.9 L302.16 152.4 L302.24 150.9 L302.32 149.4 L302.41 147.9 L302.5 146.4 L302.59 144.9 L302.68 143.4 L302.78 141.9 L302.88 140.4 L302.98 138.9 L303.08 137.4 L303.19 135.9 L303.3 134.4 L303.41 132.9 L303.53 131.4 L303.65 129.9 L303.77 128.4 L303.9 126.9 L304.03 125.4 L304.17 123.9 L304.32 122.4 L304.49 120.9 L304.67 119.4 L304.85 117.9 L305.05 116.4 L305.25 114.9 L305.45 113.4 L305.66 111.9 L305.88 110.4 L306.09 108.9 L306.3 107.4 L306.51 105.9 L306.72 104.4 L306.93 102.9 L307.12 101.4 L307.31 99.9 L307.5 98.4 L307.67 96.9 L307.84 95.4 L308.01 93.9 L308.17 92.4 L308.33 90.9 L308.49 89.4 L308.65 87.9 L308.81 86.4 L308.97 84.9 L309.13 83.4 L309.3 81.9 L309.47 80.4 L309.65 78.9 L309.83 77.4 L310.02 75.9 L310.21 74.4 L310.42 72.9 L310.64 71.4 L310.86 69.9 L311.1 68.4 L311.35 66.9 L311.63 65.4 L311.92 63.9 L312.23 62.4 L312.56 60.9 L312.91 59.4 L313.27 57.9 L313.65 56.4 L314.05 54.9 L314.45 53.4 L314.87 51.9 L315.32 50.4 L315.82 48.9 L316.36 47.4 L316.91 45.9 L317.49 44.4 L318.06 42.9 L318.64 41.4 L319.24 39.9 L319.86 38.4 L320.49 36.9 L320.7 36.4 L325.1 36.3" fill="none" stroke="#000" stroke-width="3.4" stroke-linejoin="round" stroke-linecap="round"/>
<text x="297.4" y="229.5" font-family='"Liberation Sans", sans-serif' font-size="15.5" font-weight="bold" text-anchor="middle" fill="#000" textLength="22.3" lengthAdjust="spacingAndGlyphs">100</text>
<line x1="82.5" y1="162.8" x2="82.5" y2="229.3" stroke="#8a8a8a" stroke-width="1.0"/>
<line x1="82.5" y1="229.3" x2="167.3" y2="229.3" stroke="#8a8a8a" stroke-width="1.0"/>
<line x1="81" y1="164.3" x2="82.5" y2="164.3" stroke="#8a8a8a" stroke-width="0.8"/>
<text x="80.5" y="165.9" font-family='"Liberation Sans", sans-serif' font-size="4.6" font-weight="normal" text-anchor="end" fill="#3a3a3a">1E8.6</text>
<line x1="81" y1="179.4" x2="82.5" y2="179.4" stroke="#8a8a8a" stroke-width="0.8"/>
<text x="80.5" y="181" font-family='"Liberation Sans", sans-serif' font-size="4.6" font-weight="normal" text-anchor="end" fill="#3a3a3a">1E8.4</text>
<line x1="81" y1="195.1" x2="82.5" y2="195.1" stroke="#8a8a8a" stroke-width="0.8"/>
<text x="80.5" y="196.7" font-family='"Liberation Sans", sans-serif' font-size="4.6" font-weight="normal" text-anchor="end" fill="#3a3a3a">1E8.2</text>
<line x1="81" y1="210.2" x2="82.5" y2="210.2" stroke="#8a8a8a" stroke-width="0.8"/>
<text x="80.5" y="211.8" font-family='"Liberation Sans", sans-serif' font-size="4.6" font-weight="normal" text-anchor="end" fill="#3a3a3a">1E8.0</text>
<line x1="81" y1="226.2" x2="82.5" y2="226.2" stroke="#8a8a8a" stroke-width="0.8"/>
<text x="80.5" y="227.8" font-family='"Liberation Sans", sans-serif' font-size="4.6" font-weight="normal" text-anchor="end" fill="#3a3a3a">1E7.8</text>
<line x1="90.6" y1="229.3" x2="90.6" y2="230.8" stroke="#8a8a8a" stroke-width="0.8"/>
<text x="90.6" y="235.2" font-family='"Liberation Sans", sans-serif' font-size="4.6" font-weight="normal" text-anchor="middle" fill="#3a3a3a">0</text>
<line x1="124" y1="229.3" x2="124" y2="230.8" stroke="#8a8a8a" stroke-width="0.8"/>
<text x="124" y="235.2" font-family='"Liberation Sans", sans-serif' font-size="4.6" font-weight="normal" text-anchor="middle" fill="#3a3a3a">500</text>
<line x1="158.4" y1="229.3" x2="158.4" y2="230.8" stroke="#8a8a8a" stroke-width="0.8"/>
<text x="158.4" y="235.2" font-family='"Liberation Sans", sans-serif' font-size="4.6" font-weight="normal" text-anchor="middle" fill="#3a3a3a">1000</text>
<text x="124.5" y="239.6" font-family='"Liberation Sans", sans-serif' font-size="4.6" font-weight="normal" text-anchor="middle" fill="#3a3a3a">Time (s)</text>
<text x="68.5" y="196" font-family='"Liberation Sans", sans-serif' font-size="4.6" font-weight="normal" text-anchor="middle" fill="#3a3a3a" transform="rotate(-90 68.5 196)">Resistance (ohm)</text>
<path d="M90.3 172.9 L98.1 172.9 L100.5 178 L103 186 L106 194 L108.5 198.8 L109.5 199.3 L109.8 190 L109.8 172.9 L119.1 172.9 L121.5 184 L124 198 L127 206 L130 210.5 L131.8 211 L132.3 200 L133 190 L135 181 L137.8 176.8 L140 176 L142.5 175.5 L144 175.2 L146 174.2 L148.6 172.9 L158.8 172.9" fill="none" stroke="#111" stroke-width="1.3" stroke-linejoin="round" stroke-linecap="round"/>
<text x="108.2" y="209.6" font-family='"Liberation Sans", sans-serif' font-size="9" font-weight="bold" text-anchor="middle" fill="#000" textLength="14" lengthAdjust="spacingAndGlyphs">0.1</text>
<text x="130.8" y="221.3" font-family='"Liberation Sans", sans-serif' font-size="9" font-weight="bold" text-anchor="middle" fill="#000" textLength="14" lengthAdjust="spacingAndGlyphs">0.5</text>
<ellipse cx="92.9" cy="52.4" rx="16.3" ry="27" fill="none" stroke="#2323c8" stroke-width="1.7" stroke-dasharray="5.5 3.2" transform="rotate(3 92.9 52.4)"/>
<line x1="97.3" y1="81.6" x2="107.6" y2="153" stroke="#2323c8" stroke-width="1.1"/>
<path d="M105 151.5 L111.2 150.6 L108.7 162.8 Z" fill="#2323c8"/>
<text x="344.5" y="28.2" font-family='"Liberation Sans", sans-serif' font-size="26" font-weight="bold" text-anchor="start" fill="#000">b</text>
<line x1="387.3" y1="227.1" x2="391.3" y2="227.1" stroke="#000" stroke-width="1.4"/>
<text x="383.4" y="232.5" font-family='"Liberation Sans", sans-serif' font-size="15.7" font-weight="bold" text-anchor="end" fill="#000">0</text>
<line x1="387.3" y1="197.53" x2="391.3" y2="197.53" stroke="#000" stroke-width="1.4"/>
<text x="383.4" y="202.93" font-family='"Liberation Sans", sans-serif' font-size="15.7" font-weight="bold" text-anchor="end" fill="#000" textLength="22.3" lengthAdjust="spacingAndGlyphs">100</text>
<line x1="387.3" y1="167.96" x2="391.3" y2="167.96" stroke="#000" stroke-width="1.4"/>
<text x="383.4" y="173.36" font-family='"Liberation Sans", sans-serif' font-size="15.7" font-weight="bold" text-anchor="end" fill="#000" textLength="22.3" lengthAdjust="spacingAndGlyphs">200</text>
<line x1="387.3" y1="138.39" x2="391.3" y2="138.39" stroke="#000" stroke-width="1.4"/>
<text x="383.4" y="143.79" font-family='"Liberation Sans", sans-serif' font-size="15.7" font-weight="bold" text-anchor="end" fill="#000" textLength="22.3" lengthAdjust="spacingAndGlyphs">300</text>
<line x1="387.3" y1="108.82" x2="391.3" y2="108.82" stroke="#000" stroke-width="1.4"/>
<text x="383.4" y="114.22" font-family='"Liberation Sans", sans-serif' font-size="15.7" font-weight="bold" text-anchor="end" fill="#000" textLength="22.3" lengthAdjust="spacingAndGlyphs">400</text>
<line x1="387.3" y1="79.25" x2="391.3" y2="79.25" stroke="#000" stroke-width="1.4"/>
<text x="383.4" y="84.65" font-family='"Liberation Sans", sans-serif' font-size="15.7" font-weight="bold" text-anchor="end" fill="#000" textLength="22.3" lengthAdjust="spacingAndGlyphs">500</text>
<line x1="387.3" y1="49.68" x2="391.3" y2="49.68" stroke="#000" stroke-width="1.4"/>
<text x="383.4" y="55.08" font-family='"Liberation Sans", sans-serif' font-size="15.7" font-weight="bold" text-anchor="end" fill="#000" textLength="22.3" lengthAdjust="spacingAndGlyphs">600</text>
<line x1="387.3" y1="20.11" x2="391.3" y2="20.11" stroke="#000" stroke-width="1.4"/>
<text x="383.4" y="25.51" font-family='"Liberation Sans", sans-serif' font-size="15.7" font-weight="bold" text-anchor="end" fill="#000" textLength="22.3" lengthAdjust="spacingAndGlyphs">700</text>
<line x1="388.8" y1="212.31" x2="391.3" y2="212.31" stroke="#000" stroke-width="1.2"/>
<line x1="388.8" y1="182.75" x2="391.3" y2="182.75" stroke="#000" stroke-width="1.2"/>
<line x1="388.8" y1="153.17" x2="391.3" y2="153.17" stroke="#000" stroke-width="1.2"/>
<line x1="388.8" y1="123.6" x2="391.3" y2="123.6" stroke="#000" stroke-width="1.2"/>
<line x1="388.8" y1="94.03" x2="391.3" y2="94.03" stroke="#000" stroke-width="1.2"/>
<line x1="388.8" y1="64.46" x2="391.3" y2="64.46" stroke="#000" stroke-width="1.2"/>
<line x1="388.8" y1="34.89" x2="391.3" y2="34.89" stroke="#000" stroke-width="1.2"/>
<line x1="414.8" y1="241.8" x2="414.8" y2="245.8" stroke="#000" stroke-width="1.4"/>
<text x="414.8" y="260.6" font-family='"Liberation Sans", sans-serif' font-size="15.7" font-weight="bold" text-anchor="middle" fill="#000">0</text>
<line x1="462.88" y1="241.8" x2="462.88" y2="245.8" stroke="#000" stroke-width="1.4"/>
<text x="462.88" y="260.6" font-family='"Liberation Sans", sans-serif' font-size="15.7" font-weight="bold" text-anchor="middle" fill="#000" textLength="14.7" lengthAdjust="spacingAndGlyphs">20</text>
<line x1="510.96" y1="241.8" x2="510.96" y2="245.8" stroke="#000" stroke-width="1.4"/>
<text x="510.96" y="260.6" font-family='"Liberation Sans", sans-serif' font-size="15.7" font-weight="bold" text-anchor="middle" fill="#000" textLength="14.7" lengthAdjust="spacingAndGlyphs">40</text>
<line x1="559.04" y1="241.8" x2="559.04" y2="245.8" stroke="#000" stroke-width="1.4"/>
<text x="559.04" y="260.6" font-family='"Liberation Sans", sans-serif' font-size="15.7" font-weight="bold" text-anchor="middle" fill="#000" textLength="14.7" lengthAdjust="spacingAndGlyphs">60</text>
<line x1="607.12" y1="241.8" x2="607.12" y2="245.8" stroke="#000" stroke-width="1.4"/>
<text x="607.12" y="260.6" font-family='"Liberation Sans", sans-serif' font-size="15.7" font-weight="bold" text-anchor="middle" fill="#000" textLength="14.7" lengthAdjust="spacingAndGlyphs">80</text>
<line x1="655.2" y1="241.8" x2="655.2" y2="245.8" stroke="#000" stroke-width="1.4"/>
<text x="655.2" y="260.6" font-family='"Liberation Sans", sans-serif' font-size="15.7" font-weight="bold" text-anchor="middle" fill="#000" textLength="22.3" lengthAdjust="spacingAndGlyphs">100</text>
<line x1="438.84" y1="241.8" x2="438.84" y2="244.3" stroke="#000" stroke-width="1.2"/>
<line x1="486.92" y1="241.8" x2="486.92" y2="244.3" stroke="#000" stroke-width="1.2"/>
<line x1="535" y1="241.8" x2="535" y2="244.3" stroke="#000" stroke-width="1.2"/>
<line x1="583.08" y1="241.8" x2="583.08" y2="244.3" stroke="#000" stroke-width="1.2"/>
<line x1="631.16" y1="241.8" x2="631.16" y2="244.3" stroke="#000" stroke-width="1.2"/>
<text x="535.3" y="275.7" font-family='"Liberation Sans", sans-serif' font-size="14.4" font-weight="bold" text-anchor="middle" fill="#000" textLength="142.5" lengthAdjust="spacingAndGlyphs">Concentration (ppm)</text>
<text x="355.5" y="129.8" font-family='"Liberation Sans", sans-serif' font-size="14.4" font-weight="bold" text-anchor="middle" fill="#000" textLength="125.6" lengthAdjust="spacingAndGlyphs" transform="rotate(-90 355.5 129.8)">Response (Ra/Rg)</text>
<text x="419.7" y="69.8" font-family='"Liberation Sans", sans-serif' font-size="16.3" font-weight="bold" text-anchor="start" fill="#000" textLength="155.5" lengthAdjust="spacingAndGlyphs">y=5.83048*x-9.21433</text>
<text x="419.7" y="89.1" font-family='"Liberation Sans", sans-serif' font-size="16.3" font-weight="bold" text-anchor="start" fill="#000" textLength="139.7" lengthAdjust="spacingAndGlyphs">R-Square=0.97936</text>
<line x1="414.8" y1="229.8" x2="655.2" y2="57.4" stroke="#cf2a33" stroke-width="1.7"/>
<line x1="415.04" y1="225.1" x2="415.04" y2="227.5" stroke="#2a1cc4" stroke-width="1.7"/>
<line x1="412.54" y1="225.1" x2="417.54" y2="225.1" stroke="#2a1cc4" stroke-width="1.7"/>
<line x1="412.54" y1="227.5" x2="417.54" y2="227.5" stroke="#2a1cc4" stroke-width="1.7"/>
<path d="M412.64 224.3 L417.44 224.3 L416.04 226.3 L417.44 228.3 L412.64 228.3 L414.04 226.3 Z" fill="#2a1cc4"/>
<line x1="416" y1="224.4" x2="416" y2="226.8" stroke="#2a1cc4" stroke-width="1.7"/>
<line x1="413.5" y1="224.4" x2="418.5" y2="224.4" stroke="#2a1cc4" stroke-width="1.7"/>
<line x1="413.5" y1="226.8" x2="418.5" y2="226.8" stroke="#2a1cc4" stroke-width="1.7"/>
<path d="M413.6 223.6 L418.4 223.6 L417 225.6 L418.4 227.6 L413.6 227.6 L415 225.6 Z" fill="#2a1cc4"/>
<line x1="417.2" y1="223.8" x2="417.2" y2="226.8" stroke="#2a1cc4" stroke-width="1.7"/>
<line x1="414.7" y1="223.8" x2="419.7" y2="223.8" stroke="#2a1cc4" stroke-width="1.7"/>
<line x1="414.7" y1="226.8" x2="419.7" y2="226.8" stroke="#2a1cc4" stroke-width="1.7"/>
<path d="M414.8 223.3 L419.6 223.3 L418.2 225.3 L419.6 227.3 L414.8 227.3 L416.2 225.3 Z" fill="#2a1cc4"/>
<line x1="426.82" y1="216" x2="426.82" y2="218.4" stroke="#2a1cc4" stroke-width="1.7"/>
<line x1="424.32" y1="216" x2="429.32" y2="216" stroke="#2a1cc4" stroke-width="1.7"/>
<line x1="424.32" y1="218.4" x2="429.32" y2="218.4" stroke="#2a1cc4" stroke-width="1.7"/>
<path d="M424.42 215.2 L429.22 215.2 L427.82 217.2 L429.22 219.2 L424.42 219.2 L425.82 217.2 Z" fill="#2a1cc4"/>
<line x1="438.84" y1="203.7" x2="438.84" y2="208.3" stroke="#2a1cc4" stroke-width="1.7"/>
<line x1="436.34" y1="203.7" x2="441.34" y2="203.7" stroke="#2a1cc4" stroke-width="1.7"/>
<line x1="436.34" y1="208.3" x2="441.34" y2="208.3" stroke="#2a1cc4" stroke-width="1.7"/>
<path d="M436.44 204 L441.24 204 L439.84 206 L441.24 208 L436.44 208 L437.84 206 Z" fill="#2a1cc4"/>
<line x1="462.88" y1="196.8" x2="462.88" y2="199.2" stroke="#2a1cc4" stroke-width="1.7"/>
<line x1="460.38" y1="196.8" x2="465.38" y2="196.8" stroke="#2a1cc4" stroke-width="1.7"/>
<line x1="460.38" y1="199.2" x2="465.38" y2="199.2" stroke="#2a1cc4" stroke-width="1.7"/>
<path d="M460.48 196 L465.28 196 L463.88 198 L465.28 200 L460.48 200 L461.88 198 Z" fill="#2a1cc4"/>
<line x1="510.96" y1="179.2" x2="510.96" y2="186.8" stroke="#2a1cc4" stroke-width="1.7"/>
<line x1="508.46" y1="179.2" x2="513.46" y2="179.2" stroke="#2a1cc4" stroke-width="1.7"/>
<line x1="508.46" y1="186.8" x2="513.46" y2="186.8" stroke="#2a1cc4" stroke-width="1.7"/>
<path d="M508.56 181 L513.36 181 L511.96 183 L513.36 185 L508.56 185 L509.96 183 Z" fill="#2a1cc4"/>
<line x1="559.04" y1="129" x2="559.04" y2="135.4" stroke="#2a1cc4" stroke-width="1.7"/>
<line x1="556.54" y1="129" x2="561.54" y2="129" stroke="#2a1cc4" stroke-width="1.7"/>
<line x1="556.54" y1="135.4" x2="561.54" y2="135.4" stroke="#2a1cc4" stroke-width="1.7"/>
<path d="M556.64 130.2 L561.44 130.2 L560.04 132.2 L561.44 134.2 L556.64 134.2 L558.04 132.2 Z" fill="#2a1cc4"/>
<line x1="607.12" y1="89" x2="607.12" y2="92.6" stroke="#2a1cc4" stroke-width="1.7"/>
<line x1="604.62" y1="89" x2="609.62" y2="89" stroke="#2a1cc4" stroke-width="1.7"/>
<line x1="604.62" y1="92.6" x2="609.62" y2="92.6" stroke="#2a1cc4" stroke-width="1.7"/>
<path d="M604.72 88.8 L609.52 88.8 L608.12 90.8 L609.52 92.8 L604.72 92.8 L606.12 90.8 Z" fill="#2a1cc4"/>
<line x1="655.2" y1="41.3" x2="655.2" y2="49.5" stroke="#2a1cc4" stroke-width="1.7"/>
<line x1="652.7" y1="41.3" x2="657.7" y2="41.3" stroke="#2a1cc4" stroke-width="1.7"/>
<line x1="652.7" y1="49.5" x2="657.7" y2="49.5" stroke="#2a1cc4" stroke-width="1.7"/>
<path d="M652.8 43.4 L657.6 43.4 L656.2 45.4 L657.6 47.4 L652.8 47.4 L654.2 45.4 Z" fill="#2a1cc4"/>
<rect x="757.8" y="20.2" width="3.6" height="221.5" fill="#ade0fa" stroke="none" stroke-width="0"/>
<rect x="832" y="20.2" width="149.8" height="221.5" fill="#9ddbfd" stroke="none" stroke-width="0"/>
<text x="683" y="28.7" font-family='"Liberation Sans", sans-serif' font-size="27" font-weight="bold" text-anchor="start" fill="#000">c</text>
<line x1="737.8" y1="20.2" x2="741.8" y2="20.2" stroke="#000" stroke-width="1.4"/>
<text x="736.3" y="25.7" font-family='"Liberation Sans", sans-serif' font-size="15.7" font-weight="bold" text-anchor="end" fill="#000" textLength="36.6" lengthAdjust="spacingAndGlyphs">1E9.0</text>
<line x1="737.8" y1="51.83" x2="741.8" y2="51.83" stroke="#000" stroke-width="1.4"/>
<text x="736.3" y="57.33" font-family='"Liberation Sans", sans-serif' font-size="15.7" font-weight="bold" text-anchor="end" fill="#000" textLength="36.6" lengthAdjust="spacingAndGlyphs">1E8.5</text>
<line x1="737.8" y1="83.46" x2="741.8" y2="83.46" stroke="#000" stroke-width="1.4"/>
<text x="736.3" y="88.96" font-family='"Liberation Sans", sans-serif' font-size="15.7" font-weight="bold" text-anchor="end" fill="#000" textLength="36.6" lengthAdjust="spacingAndGlyphs">1E8.0</text>
<line x1="737.8" y1="115.09" x2="741.8" y2="115.09" stroke="#000" stroke-width="1.4"/>
<text x="736.3" y="120.59" font-family='"Liberation Sans", sans-serif' font-size="15.7" font-weight="bold" text-anchor="end" fill="#000" textLength="36.6" lengthAdjust="spacingAndGlyphs">1E7.5</text>
<line x1="737.8" y1="146.72" x2="741.8" y2="146.72" stroke="#000" stroke-width="1.4"/>
<text x="736.3" y="152.22" font-family='"Liberation Sans", sans-serif' font-size="15.7" font-weight="bold" text-anchor="end" fill="#000" textLength="36.6" lengthAdjust="spacingAndGlyphs">1E7.0</text>
<line x1="737.8" y1="178.35" x2="741.8" y2="178.35" stroke="#000" stroke-width="1.4"/>
<text x="736.3" y="183.85" font-family='"Liberation Sans", sans-serif' font-size="15.7" font-weight="bold" text-anchor="end" fill="#000" textLength="36.6" lengthAdjust="spacingAndGlyphs">1E6.5</text>
<line x1="737.8" y1="209.98" x2="741.8" y2="209.98" stroke="#000" stroke-width="1.4"/>
<text x="736.3" y="215.48" font-family='"Liberation Sans", sans-serif' font-size="15.7" font-weight="bold" text-anchor="end" fill="#000" textLength="36.6" lengthAdjust="spacingAndGlyphs">1E6.0</text>
<line x1="737.8" y1="241.61" x2="741.8" y2="241.61" stroke="#000" stroke-width="1.4"/>
<text x="736.3" y="247.11" font-family='"Liberation Sans", sans-serif' font-size="15.7" font-weight="bold" text-anchor="end" fill="#000" textLength="36.6" lengthAdjust="spacingAndGlyphs">1E5.5</text>
<line x1="739.3" y1="36.02" x2="741.8" y2="36.02" stroke="#000" stroke-width="1.2"/>
<line x1="739.3" y1="67.64" x2="741.8" y2="67.64" stroke="#000" stroke-width="1.2"/>
<line x1="739.3" y1="99.28" x2="741.8" y2="99.28" stroke="#000" stroke-width="1.2"/>
<line x1="739.3" y1="130.91" x2="741.8" y2="130.91" stroke="#000" stroke-width="1.2"/>
<line x1="739.3" y1="162.53" x2="741.8" y2="162.53" stroke="#000" stroke-width="1.2"/>
<line x1="739.3" y1="194.16" x2="741.8" y2="194.16" stroke="#000" stroke-width="1.2"/>
<line x1="739.3" y1="225.79" x2="741.8" y2="225.79" stroke="#000" stroke-width="1.2"/>
<line x1="759.7" y1="241.7" x2="759.7" y2="245.7" stroke="#000" stroke-width="1.4"/>
<text x="759.7" y="261.2" font-family='"Liberation Sans", sans-serif' font-size="15.7" font-weight="bold" text-anchor="middle" fill="#000">0</text>
<line x1="812.4" y1="241.7" x2="812.4" y2="245.7" stroke="#000" stroke-width="1.4"/>
<text x="812.4" y="261.2" font-family='"Liberation Sans", sans-serif' font-size="15.7" font-weight="bold" text-anchor="middle" fill="#000" textLength="22.3" lengthAdjust="spacingAndGlyphs">150</text>
<line x1="865.09" y1="241.7" x2="865.09" y2="245.7" stroke="#000" stroke-width="1.4"/>
<text x="865.09" y="261.2" font-family='"Liberation Sans", sans-serif' font-size="15.7" font-weight="bold" text-anchor="middle" fill="#000" textLength="22.3" lengthAdjust="spacingAndGlyphs">300</text>
<line x1="917.79" y1="241.7" x2="917.79" y2="245.7" stroke="#000" stroke-width="1.4"/>
<text x="917.79" y="261.2" font-family='"Liberation Sans", sans-serif' font-size="15.7" font-weight="bold" text-anchor="middle" fill="#000" textLength="22.3" lengthAdjust="spacingAndGlyphs">450</text>
<line x1="970.48" y1="241.7" x2="970.48" y2="245.7" stroke="#000" stroke-width="1.4"/>
<text x="970.48" y="261.2" font-family='"Liberation Sans", sans-serif' font-size="15.7" font-weight="bold" text-anchor="middle" fill="#000" textLength="22.3" lengthAdjust="spacingAndGlyphs">600</text>
<line x1="786.05" y1="241.7" x2="786.05" y2="244.2" stroke="#000" stroke-width="1.2"/>
<line x1="838.74" y1="241.7" x2="838.74" y2="244.2" stroke="#000" stroke-width="1.2"/>
<line x1="891.44" y1="241.7" x2="891.44" y2="244.2" stroke="#000" stroke-width="1.2"/>
<line x1="944.13" y1="241.7" x2="944.13" y2="244.2" stroke="#000" stroke-width="1.2"/>
<line x1="996.83" y1="241.7" x2="996.83" y2="244.2" stroke="#000" stroke-width="1.2"/>
<text x="880.8" y="275.2" font-family='"Liberation Sans", sans-serif' font-size="14.4" font-weight="bold" text-anchor="middle" fill="#000" textLength="54.7" lengthAdjust="spacingAndGlyphs">Time (s)</text>
<text x="694.8" y="130.6" font-family='"Liberation Sans", sans-serif' font-size="14.4" font-weight="bold" text-anchor="middle" fill="#000" textLength="119.6" lengthAdjust="spacingAndGlyphs" transform="rotate(-90 694.8 130.6)">Resistance (ohm)</text>
<line x1="759.9" y1="51.8" x2="760.4" y2="140" stroke="#32729a" stroke-width="1.4"/>
<circle cx="759.9" cy="52" r="1.3" fill="#32729a" stroke="none" stroke-width="0"/>
<circle cx="759.93" cy="57.5" r="1.33" fill="#32729a" stroke="none" stroke-width="0"/>
<circle cx="759.96" cy="62.76" r="1.35" fill="#32729a" stroke="none" stroke-width="0"/>
<circle cx="759.99" cy="67.8" r="1.37" fill="#32729a" stroke="none" stroke-width="0"/>
<circle cx="760.02" cy="72.62" r="1.4" fill="#32729a" stroke="none" stroke-width="0"/>
<circle cx="760.05" cy="77.23" r="1.42" fill="#32729a" stroke="none" stroke-width="0"/>
<circle cx="760.07" cy="81.65" r="1.44" fill="#32729a" stroke="none" stroke-width="0"/>
<circle cx="760.1" cy="85.87" r="1.46" fill="#32729a" stroke="none" stroke-width="0"/>
<circle cx="760.12" cy="89.91" r="1.48" fill="#32729a" stroke="none" stroke-width="0"/>
<circle cx="760.14" cy="93.78" r="1.49" fill="#32729a" stroke="none" stroke-width="0"/>
<circle cx="760.16" cy="97.49" r="1.51" fill="#32729a" stroke="none" stroke-width="0"/>
<circle cx="760.19" cy="101.03" r="1.53" fill="#32729a" stroke="none" stroke-width="0"/>
<circle cx="760.2" cy="104.42" r="1.54" fill="#32729a" stroke="none" stroke-width="0"/>
<circle cx="760.22" cy="107.66" r="1.56" fill="#32729a" stroke="none" stroke-width="0"/>
<circle cx="760.24" cy="110.77" r="1.57" fill="#32729a" stroke="none" stroke-width="0"/>
<circle cx="760.26" cy="113.74" r="1.59" fill="#32729a" stroke="none" stroke-width="0"/>
<circle cx="760.28" cy="116.58" r="1.6" fill="#32729a" stroke="none" stroke-width="0"/>
<circle cx="760.29" cy="119.31" r="1.61" fill="#32729a" stroke="none" stroke-width="0"/>
<circle cx="760.31" cy="121.91" r="1.63" fill="#32729a" stroke="none" stroke-width="0"/>
<circle cx="760.32" cy="124.4" r="1.64" fill="#32729a" stroke="none" stroke-width="0"/>
<circle cx="760.33" cy="126.79" r="1.65" fill="#32729a" stroke="none" stroke-width="0"/>
<circle cx="760.35" cy="129.07" r="1.66" fill="#32729a" stroke="none" stroke-width="0"/>
<circle cx="760.36" cy="131.25" r="1.67" fill="#32729a" stroke="none" stroke-width="0"/>
<circle cx="760.37" cy="133.34" r="1.68" fill="#32729a" stroke="none" stroke-width="0"/>
<circle cx="760.38" cy="135.34" r="1.69" fill="#32729a" stroke="none" stroke-width="0"/>
<circle cx="760.4" cy="137.26" r="1.7" fill="#32729a" stroke="none" stroke-width="0"/>
<path d="M760.4 136 L760.42 136.46 L760.44 136.94 L760.47 137.48 L760.49 138.1 L760.52 138.83 L760.57 139.69 L760.62 140.72 L760.7 141.92 L760.79 143.34 L760.9 145 L761.04 146.99 L761.19 149.35 L761.37 151.99 L761.56 154.83 L761.77 157.79 L761.98 160.8 L762.21 163.78 L762.44 166.64 L762.67 169.31 L762.9 171.7 L763.12 173.85 L763.34 175.84 L763.56 177.72 L763.78 179.49 L764.01 181.2 L764.25 182.86 L764.52 184.51 L764.81 186.16 L765.14 187.85 L765.5 189.6 L765.9 191.42 L766.32 193.28 L766.76 195.17 L767.24 197.07 L767.73 198.95 L768.25 200.8 L768.8 202.6 L769.37 204.33 L769.97 205.97 L770.6 207.5 L771.24 208.93 L771.89 210.28 L772.56 211.57 L773.25 212.78 L773.97 213.94 L774.73 215.04 L775.53 216.09 L776.39 217.1 L777.31 218.07 L778.3 219 L779.35 219.89 L780.45 220.73 L781.6 221.52 L782.81 222.26 L784.06 222.96 L785.37 223.61 L786.72 224.23 L788.13 224.82 L789.59 225.37 L791.1 225.9 L792.66 226.39 L794.27 226.84 L795.93 227.25 L797.65 227.63 L799.41 227.97 L801.23 228.28 L803.09 228.57 L805.01 228.83 L806.98 229.07 L809 229.3 L811.2 229.5 L813.64 229.67 L816.25 229.81 L818.94 229.92 L821.62 230.01 L824.21 230.09 L826.63 230.15 L828.79 230.2 L830.61 230.25 L832 230.3" fill="none" stroke="#000" stroke-width="2.9" stroke-linejoin="round" stroke-linecap="round"/>
<path d="M832.8 230.3 L832.9 228.16 L833.05 225.47 L833.2 222.9 L833.35 220.51 L833.5 218.37 L833.65 216.53 L833.8 215 L833.95 213.58 L834.1 212.25 L834.25 211.01 L834.4 209.85 L834.55 208.77 L834.7 207.75 L834.85 206.8 L835 205.9 L835.15 205.04 L835.3 204.22 L835.45 203.44 L835.6 202.69 L835.75 201.96 L835.9 201.25 L836.05 200.57 L836.65 198.04 L837.25 195.8 L837.85 193.76 L838.45 191.86 L839.05 190.05 L839.65 188.35 L840.25 186.73 L840.85 185.21 L841.45 183.75 L842.05 182.36 L842.65 181.03 L843.25 179.74 L843.85 178.48 L844.45 177.26 L845.05 176.08 L845.65 174.93 L846.25 173.81 L846.85 172.73 L847.45 171.69 L848.05 170.67 L848.65 169.69 L849.25 168.74 L849.85 167.82 L850.45 166.93 L851.45 165.5 L852.45 164.13 L853.45 162.82 L854.45 161.56 L855.45 160.34 L856.45 159.16 L857.45 158.02 L858.45 156.91 L859.45 155.84 L860.45 154.8 L861.45 153.79 L862.45 152.81 L863.45 151.83 L864.45 150.87 L865.45 149.91 L866.45 148.95 L867.45 147.98 L868.45 147.01 L869.45 146.06 L870.45 145.11 L871.45 144.17 L872.45 143.23 L873.45 142.31 L874.45 141.41 L875.45 140.52 L876.45 139.64 L877.45 138.79 L878.45 137.94 L879.45 137.11 L880.45 136.29 L881.45 135.48 L882.45 134.68 L883.45 133.89 L884.45 133.1 L885.45 132.32 L886.45 131.54 L887.45 130.76 L888.45 129.99 L889.45 129.22 L890.45 128.47 L891.45 127.71 L892.45 126.97 L893.45 126.22 L894.45 125.48 L895.45 124.73 L896.45 123.85 L897.45 122.89 L898.45 121.94 L899.45 121.12 L900.45 120.51 L901.45 120.21 L902.45 120.25 L903.45 120.38 L904.45 120.24 L905.45 119.26 L906.45 117.79 L907.45 116.25 L908.45 115.05 L909.45 114.08 L910.45 113.12 L911.45 112.21 L912.45 111.38 L913.45 110.64 L914.45 110.03 L915.45 109.59 L916.45 109.28 L917.45 108.72 L918.45 107.21 L919.45 105.42 L920.45 104.27 L921.45 103.8 L922.45 103.48 L923.45 103.23 L924.45 102.97 L925.45 102.61 L926.45 102.06 L927.45 101.18 L928.45 100.05 L929.45 98.78 L930.45 97.44 L931.45 96.14 L932.45 94.96 L933.45 93.92 L934.45 92.89 L935.45 91.89 L936.45 90.9 L937.45 89.93 L938.45 88.99 L939.45 88.06 L940.45 87.17 L941.45 86.3 L942.45 85.48 L943.45 84.71 L944.45 83.95 L945.45 83.2 L946.45 82.44 L947.45 81.64 L948.45 80.77 L949.45 79.73 L950.45 78.56 L951.45 77.36 L952.45 76.27 L953.45 75.39 L954.45 74.85 L955.45 74.6 L956.45 74.43 L957.45 74.31 L958.45 74.22 L959.45 74.12 L960.45 73.99 L961.45 73.81 L962.45 73.55 L963.45 72.82 L964.45 71.6 L965.45 70.14 L966.45 68.68 L967.45 67.45 L968.45 66.4 L969.45 65.39 L970.45 64.48 L971.45 63.73 L972.45 63.09 L973.45 62.54 L974.45 62.02 L975.45 61.53 L976.45 61.02 L977.45 60.52 L978.45 60.02 L979.45 59.54 L980.45 59.08 L981.45 58.62 L981.5 58.6" fill="none" stroke="#32729a" stroke-width="3.1" stroke-linejoin="round" stroke-linecap="round"/>
<path d="M981.5 58.6 L984 57.9 L986.6 55.4 L990.4 52.8 L993 52.2 L998.1 52.2" fill="none" stroke="#000" stroke-width="3.0" stroke-linejoin="round" stroke-linecap="round"/>
<line x1="763.2" y1="51.2" x2="771.69" y2="48.45" stroke="#000" stroke-width="1.8"/>
<path d="M777.4 46.6 L771.7 51.71 L769.79 45.81 Z" fill="#000"/>
<text x="779.2" y="49.6" font-family='"Liberation Sans", sans-serif' font-size="15.5" font-weight="bold" text-anchor="start" fill="#000" textLength="45.8" lengthAdjust="spacingAndGlyphs">gas in</text>
<text x="766" y="78.3" font-family='"Liberation Serif", serif' font-size="14.8" font-weight="bold" text-anchor="start" fill="#000" textLength="43.3" lengthAdjust="spacingAndGlyphs">τ = 2 s</text>
<line x1="835.8" y1="228.3" x2="851.22" y2="218.6" stroke="#000" stroke-width="1.8"/>
<path d="M856.3 215.4 L852.03 221.75 L848.72 216.5 Z" fill="#000"/>
<text x="857.9" y="213.7" font-family='"Liberation Sans", sans-serif' font-size="15.5" font-weight="bold" text-anchor="start" fill="#000" textLength="57.2" lengthAdjust="spacingAndGlyphs">gas out</text>
<text x="863.3" y="233.2" font-family='"Liberation Serif", serif' font-size="15.2" font-weight="bold" text-anchor="start" fill="#000" textLength="58.2" lengthAdjust="spacingAndGlyphs">τ = 436 s</text>
<text x="7" y="296.6" font-family='"Liberation Sans", sans-serif' font-size="26" font-weight="bold" text-anchor="start" fill="#000">d</text>
<line x1="59.5" y1="303.6" x2="63.5" y2="303.6" stroke="#000" stroke-width="1.4"/>
<text x="57.8" y="309.1" font-family='"Liberation Sans", sans-serif' font-size="15.7" font-weight="bold" text-anchor="end" fill="#000" textLength="36.6" lengthAdjust="spacingAndGlyphs">1E8.5</text>
<line x1="59.5" y1="335.15" x2="63.5" y2="335.15" stroke="#000" stroke-width="1.4"/>
<text x="57.8" y="340.65" font-family='"Liberation Sans", sans-serif' font-size="15.7" font-weight="bold" text-anchor="end" fill="#000" textLength="36.6" lengthAdjust="spacingAndGlyphs">1E8.0</text>
<line x1="59.5" y1="366.7" x2="63.5" y2="366.7" stroke="#000" stroke-width="1.4"/>
<text x="57.8" y="372.2" font-family='"Liberation Sans", sans-serif' font-size="15.7" font-weight="bold" text-anchor="end" fill="#000" textLength="36.6" lengthAdjust="spacingAndGlyphs">1E7.5</text>
<line x1="59.5" y1="398.25" x2="63.5" y2="398.25" stroke="#000" stroke-width="1.4"/>
<text x="57.8" y="403.75" font-family='"Liberation Sans", sans-serif' font-size="15.7" font-weight="bold" text-anchor="end" fill="#000" textLength="36.6" lengthAdjust="spacingAndGlyphs">1E7.0</text>
<line x1="59.5" y1="429.8" x2="63.5" y2="429.8" stroke="#000" stroke-width="1.4"/>
<text x="57.8" y="435.3" font-family='"Liberation Sans", sans-serif' font-size="15.7" font-weight="bold" text-anchor="end" fill="#000" textLength="36.6" lengthAdjust="spacingAndGlyphs">1E6.5</text>
<line x1="59.5" y1="461.35" x2="63.5" y2="461.35" stroke="#000" stroke-width="1.4"/>
<text x="57.8" y="466.85" font-family='"Liberation Sans", sans-serif' font-size="15.7" font-weight="bold" text-anchor="end" fill="#000" textLength="36.6" lengthAdjust="spacingAndGlyphs">1E6.0</text>
<line x1="59.5" y1="492.9" x2="63.5" y2="492.9" stroke="#000" stroke-width="1.4"/>
<text x="57.8" y="498.4" font-family='"Liberation Sans", sans-serif' font-size="15.7" font-weight="bold" text-anchor="end" fill="#000" textLength="36.6" lengthAdjust="spacingAndGlyphs">1E5.5</text>
<line x1="61" y1="319.38" x2="63.5" y2="319.38" stroke="#000" stroke-width="1.2"/>
<line x1="61" y1="350.93" x2="63.5" y2="350.93" stroke="#000" stroke-width="1.2"/>
<line x1="61" y1="382.48" x2="63.5" y2="382.48" stroke="#000" stroke-width="1.2"/>
<line x1="61" y1="414.03" x2="63.5" y2="414.03" stroke="#000" stroke-width="1.2"/>
<line x1="61" y1="445.58" x2="63.5" y2="445.58" stroke="#000" stroke-width="1.2"/>
<line x1="61" y1="477.12" x2="63.5" y2="477.12" stroke="#000" stroke-width="1.2"/>
<line x1="76.6" y1="508.8" x2="76.6" y2="512.8" stroke="#000" stroke-width="1.4"/>
<text x="76.6" y="528" font-family='"Liberation Sans", sans-serif' font-size="15.7" font-weight="bold" text-anchor="middle" fill="#000">0</text>
<line x1="156.2" y1="508.8" x2="156.2" y2="512.8" stroke="#000" stroke-width="1.4"/>
<text x="156.2" y="528" font-family='"Liberation Sans", sans-serif' font-size="15.7" font-weight="bold" text-anchor="middle" fill="#000" textLength="29.9" lengthAdjust="spacingAndGlyphs">1500</text>
<line x1="235.81" y1="508.8" x2="235.81" y2="512.8" stroke="#000" stroke-width="1.4"/>
<text x="235.81" y="528" font-family='"Liberation Sans", sans-serif' font-size="15.7" font-weight="bold" text-anchor="middle" fill="#000" textLength="29.9" lengthAdjust="spacingAndGlyphs">3000</text>
<line x1="315.41" y1="508.8" x2="315.41" y2="512.8" stroke="#000" stroke-width="1.4"/>
<text x="315.41" y="528" font-family='"Liberation Sans", sans-serif' font-size="15.7" font-weight="bold" text-anchor="middle" fill="#000" textLength="29.9" lengthAdjust="spacingAndGlyphs">4500</text>
<line x1="116.4" y1="508.8" x2="116.4" y2="511.3" stroke="#000" stroke-width="1.2"/>
<line x1="196.01" y1="508.8" x2="196.01" y2="511.3" stroke="#000" stroke-width="1.2"/>
<line x1="275.61" y1="508.8" x2="275.61" y2="511.3" stroke="#000" stroke-width="1.2"/>
<text x="203" y="543" font-family='"Liberation Sans", sans-serif' font-size="14.4" font-weight="bold" text-anchor="middle" fill="#000" textLength="54.7" lengthAdjust="spacingAndGlyphs">Time (s)</text>
<text x="16.1" y="397.7" font-family='"Liberation Sans", sans-serif' font-size="14.4" font-weight="bold" text-anchor="middle" fill="#000" textLength="119.5" lengthAdjust="spacingAndGlyphs" transform="rotate(-90 16.1 397.7)">Resistance (ohm)</text>
<path d="M75 303.6 L83.3 303.6" fill="none" stroke="#000" stroke-width="3.0" stroke-linejoin="round" stroke-linecap="round"/>
<line x1="83.3" y1="303.6" x2="83.6" y2="440" stroke="#000" stroke-width="1.3"/>
<circle cx="83.31" cy="308.6" r="1.4" fill="#000" stroke="none" stroke-width="0"/>
<circle cx="83.33" cy="318.45" r="1.4" fill="#000" stroke="none" stroke-width="0"/>
<circle cx="83.35" cy="327.1" r="1.4" fill="#000" stroke="none" stroke-width="0"/>
<circle cx="83.37" cy="334.77" r="1.4" fill="#000" stroke="none" stroke-width="0"/>
<circle cx="83.38" cy="341.62" r="1.4" fill="#000" stroke="none" stroke-width="0"/>
<circle cx="83.4" cy="347.8" r="1.4" fill="#000" stroke="none" stroke-width="0"/>
<circle cx="83.41" cy="353.42" r="1.4" fill="#000" stroke="none" stroke-width="0"/>
<circle cx="83.42" cy="358.54" r="1.4" fill="#000" stroke="none" stroke-width="0"/>
<circle cx="83.43" cy="363.25" r="1.4" fill="#000" stroke="none" stroke-width="0"/>
<circle cx="83.44" cy="367.6" r="1.4" fill="#000" stroke="none" stroke-width="0"/>
<circle cx="83.45" cy="371.64" r="1.4" fill="#000" stroke="none" stroke-width="0"/>
<circle cx="83.46" cy="375.4" r="1.4" fill="#000" stroke="none" stroke-width="0"/>
<circle cx="83.47" cy="378.92" r="1.4" fill="#000" stroke="none" stroke-width="0"/>
<circle cx="83.47" cy="382.22" r="1.4" fill="#000" stroke="none" stroke-width="0"/>
<circle cx="83.48" cy="385.34" r="1.4" fill="#000" stroke="none" stroke-width="0"/>
<circle cx="83.49" cy="388.28" r="1.4" fill="#000" stroke="none" stroke-width="0"/>
<circle cx="83.49" cy="391.08" r="1.4" fill="#000" stroke="none" stroke-width="0"/>
<circle cx="83.5" cy="393.73" r="1.4" fill="#000" stroke="none" stroke-width="0"/>
<circle cx="83.5" cy="396.27" r="1.4" fill="#000" stroke="none" stroke-width="0"/>
<circle cx="83.51" cy="398.69" r="1.4" fill="#000" stroke="none" stroke-width="0"/>
<circle cx="83.51" cy="401.02" r="1.4" fill="#000" stroke="none" stroke-width="0"/>
<circle cx="83.52" cy="403.25" r="1.4" fill="#000" stroke="none" stroke-width="0"/>
<circle cx="83.52" cy="405.41" r="1.4" fill="#000" stroke="none" stroke-width="0"/>
<circle cx="83.53" cy="407.49" r="1.4" fill="#000" stroke="none" stroke-width="0"/>
<circle cx="83.53" cy="409.5" r="1.4" fill="#000" stroke="none" stroke-width="0"/>
<circle cx="83.54" cy="411.45" r="1.4" fill="#000" stroke="none" stroke-width="0"/>
<circle cx="83.54" cy="413.34" r="1.4" fill="#000" stroke="none" stroke-width="0"/>
<circle cx="83.55" cy="415.19" r="1.4" fill="#000" stroke="none" stroke-width="0"/>
<circle cx="83.55" cy="416.98" r="1.4" fill="#000" stroke="none" stroke-width="0"/>
<circle cx="83.55" cy="418.74" r="1.4" fill="#000" stroke="none" stroke-width="0"/>
<circle cx="83.56" cy="420.46" r="1.4" fill="#000" stroke="none" stroke-width="0"/>
<circle cx="83.56" cy="422.14" r="1.4" fill="#000" stroke="none" stroke-width="0"/>
<circle cx="83.56" cy="423.8" r="1.4" fill="#000" stroke="none" stroke-width="0"/>
<circle cx="83.57" cy="425.42" r="1.4" fill="#000" stroke="none" stroke-width="0"/>
<circle cx="83.57" cy="427.03" r="1.4" fill="#000" stroke="none" stroke-width="0"/>
<circle cx="83.57" cy="428.61" r="1.4" fill="#000" stroke="none" stroke-width="0"/>
<circle cx="83.58" cy="430.17" r="1.4" fill="#000" stroke="none" stroke-width="0"/>
<circle cx="83.58" cy="431.72" r="1.4" fill="#000" stroke="none" stroke-width="0"/>
<circle cx="83.59" cy="433.25" r="1.4" fill="#000" stroke="none" stroke-width="0"/>
<circle cx="83.59" cy="434.77" r="1.4" fill="#000" stroke="none" stroke-width="0"/>
<circle cx="83.59" cy="436.29" r="1.4" fill="#000" stroke="none" stroke-width="0"/>
<circle cx="83.6" cy="437.79" r="1.4" fill="#000" stroke="none" stroke-width="0"/>
<path d="M83.6 436 L83.64 439.46 L83.71 444.46 L83.78 450.13 L83.85 455.6 L83.9 460 L83.89 463.24 L83.84 465.89 L83.8 468.1 L83.83 470.03 L84 471.8 L84.32 473.39 L84.76 474.69 L85.28 475.77 L85.87 476.69 L86.5 477.5 L87.27 478.18 L88.18 478.7 L89.12 479.08 L89.93 479.37 L90.5 479.6 L95.5 479.6 L96.9 478.6 L97.01 478.1 L97.02 476.1 L97.02 474.1 L97.02 472.1 L97.03 470.1 L97.03 468.1 L97.04 466.1 L97.05 464.1 L97.06 462.1 L97.08 460.1 L97.09 458.1 L97.11 456.1 L97.14 454.1 L97.17 452.1 L97.2 450.1 L97.25 448.1 L97.3 446.1 L97.36 444.1 L97.44 442.1 L97.52 440.1 L97.63 438.1 L97.75 436.1 L97.89 434.1 L98.05 432.1 L98.24 430.1 L98.45 428.1 L98.69 426.1 L98.96 424.1 L99.25 422.1 L99.57 420.1 L99.92 418.1 L100.29 416.1 L100.68 414.1 L101.09 412.1 L101.53 410.1 L101.97 408.1 L102.44 406.1 L102.92 404.1 L103.4 402.1 L103.9 400.1 L104.41 398.1 L104.92 396.1 L105.44 394.1 L105.96 392.1 L106.49 390.1 L107.02 388.1 L107.55 386.1 L108.08 384.1 L108.62 382.1 L109.16 380.1 L109.7 378.1 L110.24 376.1 L110.78 374.1 L111.32 372.1 L111.86 370.1 L112.41 368.1 L112.95 366.1 L113.49 364.1 L114.04 362.1 L114.58 360.1 L115.12 358.1 L115.67 356.1 L116.21 354.1 L116.76 352.1 L117.3 350.1 L117.85 348.1 L118.39 346.1 L118.94 344.1 L119.48 342.1 L120.03 340.1 L120.57 338.1 L121.12 336.1 L121.66 334.1 L122.21 332.1 L122.75 330.1 L123.3 328.1 L123.84 326.1 L124.39 324.1 L124.93 322.1 L125.48 320.1 L126.02 318.1 L126.57 316.1 L127.11 314.1 L127.66 312.1 L128.2 310.1 L128.75 308.1 L129.29 306.1 L129.84 304.1" fill="none" stroke="#000" stroke-width="3.5" stroke-linejoin="round" stroke-linecap="round"/>
<path d="M129.84 304.1 L130.64 303.6 L136.7 303.6" fill="none" stroke="#000" stroke-width="3.0" stroke-linejoin="round" stroke-linecap="round"/>
<line x1="136.7" y1="303.6" x2="137" y2="440" stroke="#000" stroke-width="1.3"/>
<circle cx="136.71" cy="308.6" r="1.4" fill="#000" stroke="none" stroke-width="0"/>
<circle cx="136.73" cy="318.45" r="1.4" fill="#000" stroke="none" stroke-width="0"/>
<circle cx="136.75" cy="327.1" r="1.4" fill="#000" stroke="none" stroke-width="0"/>
<circle cx="136.77" cy="334.77" r="1.4" fill="#000" stroke="none" stroke-width="0"/>
<circle cx="136.78" cy="341.62" r="1.4" fill="#000" stroke="none" stroke-width="0"/>
<circle cx="136.8" cy="347.8" r="1.4" fill="#000" stroke="none" stroke-width="0"/>
<circle cx="136.81" cy="353.42" r="1.4" fill="#000" stroke="none" stroke-width="0"/>
<circle cx="136.82" cy="358.54" r="1.4" fill="#000" stroke="none" stroke-width="0"/>
<circle cx="136.83" cy="363.25" r="1.4" fill="#000" stroke="none" stroke-width="0"/>
<circle cx="136.84" cy="367.6" r="1.4" fill="#000" stroke="none" stroke-width="0"/>
<circle cx="136.85" cy="371.64" r="1.4" fill="#000" stroke="none" stroke-width="0"/>
<circle cx="136.86" cy="375.4" r="1.4" fill="#000" stroke="none" stroke-width="0"/>
<circle cx="136.87" cy="378.92" r="1.4" fill="#000" stroke="none" stroke-width="0"/>
<circle cx="136.87" cy="382.22" r="1.4" fill="#000" stroke="none" stroke-width="0"/>
<circle cx="136.88" cy="385.34" r="1.4" fill="#000" stroke="none" stroke-width="0"/>
<circle cx="136.89" cy="388.28" r="1.4" fill="#000" stroke="none" stroke-width="0"/>
<circle cx="136.89" cy="391.08" r="1.4" fill="#000" stroke="none" stroke-width="0"/>
<circle cx="136.9" cy="393.73" r="1.4" fill="#000" stroke="none" stroke-width="0"/>
<circle cx="136.9" cy="396.27" r="1.4" fill="#000" stroke="none" stroke-width="0"/>
<circle cx="136.91" cy="398.69" r="1.4" fill="#000" stroke="none" stroke-width="0"/>
<circle cx="136.91" cy="401.02" r="1.4" fill="#000" stroke="none" stroke-width="0"/>
<circle cx="136.92" cy="403.25" r="1.4" fill="#000" stroke="none" stroke-width="0"/>
<circle cx="136.92" cy="405.41" r="1.4" fill="#000" stroke="none" stroke-width="0"/>
<circle cx="136.93" cy="407.49" r="1.4" fill="#000" stroke="none" stroke-width="0"/>
<circle cx="136.93" cy="409.5" r="1.4" fill="#000" stroke="none" stroke-width="0"/>
<circle cx="136.94" cy="411.45" r="1.4" fill="#000" stroke="none" stroke-width="0"/>
<circle cx="136.94" cy="413.34" r="1.4" fill="#000" stroke="none" stroke-width="0"/>
<circle cx="136.95" cy="415.19" r="1.4" fill="#000" stroke="none" stroke-width="0"/>
<circle cx="136.95" cy="416.98" r="1.4" fill="#000" stroke="none" stroke-width="0"/>
<circle cx="136.95" cy="418.74" r="1.4" fill="#000" stroke="none" stroke-width="0"/>
<circle cx="136.96" cy="420.46" r="1.4" fill="#000" stroke="none" stroke-width="0"/>
<circle cx="136.96" cy="422.14" r="1.4" fill="#000" stroke="none" stroke-width="0"/>
<circle cx="136.96" cy="423.8" r="1.4" fill="#000" stroke="none" stroke-width="0"/>
<circle cx="136.97" cy="425.42" r="1.4" fill="#000" stroke="none" stroke-width="0"/>
<circle cx="136.97" cy="427.03" r="1.4" fill="#000" stroke="none" stroke-width="0"/>
<circle cx="136.97" cy="428.61" r="1.4" fill="#000" stroke="none" stroke-width="0"/>
<circle cx="136.98" cy="430.17" r="1.4" fill="#000" stroke="none" stroke-width="0"/>
<circle cx="136.98" cy="431.72" r="1.4" fill="#000" stroke="none" stroke-width="0"/>
<circle cx="136.99" cy="433.25" r="1.4" fill="#000" stroke="none" stroke-width="0"/>
<circle cx="136.99" cy="434.77" r="1.4" fill="#000" stroke="none" stroke-width="0"/>
<circle cx="136.99" cy="436.29" r="1.4" fill="#000" stroke="none" stroke-width="0"/>
<circle cx="137" cy="437.79" r="1.4" fill="#000" stroke="none" stroke-width="0"/>
<path d="M137 436 L137.04 439.46 L137.09 444.46 L137.16 450.13 L137.23 455.6 L137.3 460 L137.34 463.23 L137.36 465.88 L137.4 468.08 L137.5 470.01 L137.7 471.8 L138.02 473.44 L138.43 474.82 L138.9 475.98 L139.43 476.96 L140 477.8 L140.68 478.46 L141.48 478.91 L142.29 479.21 L143 479.42 L143.5 479.6 L148.7 479.6 L150.1 478.6 L150.22 478.1 L150.22 476.1 L150.22 474.1 L150.23 472.1 L150.24 470.1 L150.24 468.1 L150.25 466.1 L150.27 464.1 L150.28 462.1 L150.3 460.1 L150.32 458.1 L150.34 456.1 L150.37 454.1 L150.41 452.1 L150.46 450.1 L150.51 448.1 L150.57 446.1 L150.64 444.1 L150.73 442.1 L150.83 440.1 L150.95 438.1 L151.09 436.1 L151.24 434.1 L151.42 432.1 L151.61 430.1 L151.83 428.1 L152.06 426.1 L152.32 424.1 L152.6 422.1 L152.89 420.1 L153.21 418.1 L153.53 416.1 L153.88 414.1 L154.23 412.1 L154.6 410.1 L154.97 408.1 L155.35 406.1 L155.74 404.1 L156.13 402.1 L156.53 400.1 L156.94 398.1 L157.34 396.1 L157.75 394.1 L158.16 392.1 L158.57 390.1 L158.99 388.1 L159.41 386.1 L159.82 384.1 L160.24 382.1 L160.66 380.1 L161.08 378.1 L161.5 376.1 L161.92 374.1 L162.34 372.1 L162.76 370.1 L163.18 368.1 L163.6 366.1 L164.02 364.1 L164.44 362.1 L164.87 360.1 L165.29 358.1 L165.71 356.1 L166.13 354.1 L166.55 352.1 L166.98 350.1 L167.4 348.1 L167.82 346.1 L168.24 344.1 L168.66 342.1 L169.08 340.1 L169.51 338.1 L169.93 336.1 L170.35 334.1 L170.77 332.1 L171.19 330.1 L171.62 328.1 L172.04 326.1 L172.46 324.1 L172.88 322.1 L173.3 320.1 L173.73 318.1 L174.15 316.1 L174.57 314.1 L174.99 312.1 L175.41 310.1 L175.84 308.1 L176.26 306.1 L176.68 304.1" fill="none" stroke="#000" stroke-width="3.5" stroke-linejoin="round" stroke-linecap="round"/>
<path d="M176.68 304.1 L177.48 303.6 L182.8 303.6" fill="none" stroke="#000" stroke-width="3.0" stroke-linejoin="round" stroke-linecap="round"/>
<line x1="182.8" y1="303.6" x2="183.1" y2="440" stroke="#000" stroke-width="1.3"/>
<circle cx="182.81" cy="308.6" r="1.4" fill="#000" stroke="none" stroke-width="0"/>
<circle cx="182.83" cy="318.45" r="1.4" fill="#000" stroke="none" stroke-width="0"/>
<circle cx="182.85" cy="327.1" r="1.4" fill="#000" stroke="none" stroke-width="0"/>
<circle cx="182.87" cy="334.77" r="1.4" fill="#000" stroke="none" stroke-width="0"/>
<circle cx="182.88" cy="341.62" r="1.4" fill="#000" stroke="none" stroke-width="0"/>
<circle cx="182.9" cy="347.8" r="1.4" fill="#000" stroke="none" stroke-width="0"/>
<circle cx="182.91" cy="353.42" r="1.4" fill="#000" stroke="none" stroke-width="0"/>
<circle cx="182.92" cy="358.54" r="1.4" fill="#000" stroke="none" stroke-width="0"/>
<circle cx="182.93" cy="363.25" r="1.4" fill="#000" stroke="none" stroke-width="0"/>
<circle cx="182.94" cy="367.6" r="1.4" fill="#000" stroke="none" stroke-width="0"/>
<circle cx="182.95" cy="371.64" r="1.4" fill="#000" stroke="none" stroke-width="0"/>
<circle cx="182.96" cy="375.4" r="1.4" fill="#000" stroke="none" stroke-width="0"/>
<circle cx="182.97" cy="378.92" r="1.4" fill="#000" stroke="none" stroke-width="0"/>
<circle cx="182.97" cy="382.22" r="1.4" fill="#000" stroke="none" stroke-width="0"/>
<circle cx="182.98" cy="385.34" r="1.4" fill="#000" stroke="none" stroke-width="0"/>
<circle cx="182.99" cy="388.28" r="1.4" fill="#000" stroke="none" stroke-width="0"/>
<circle cx="182.99" cy="391.08" r="1.4" fill="#000" stroke="none" stroke-width="0"/>
<circle cx="183" cy="393.73" r="1.4" fill="#000" stroke="none" stroke-width="0"/>
<circle cx="183" cy="396.27" r="1.4" fill="#000" stroke="none" stroke-width="0"/>
<circle cx="183.01" cy="398.69" r="1.4" fill="#000" stroke="none" stroke-width="0"/>
<circle cx="183.01" cy="401.02" r="1.4" fill="#000" stroke="none" stroke-width="0"/>
<circle cx="183.02" cy="403.25" r="1.4" fill="#000" stroke="none" stroke-width="0"/>
<circle cx="183.02" cy="405.41" r="1.4" fill="#000" stroke="none" stroke-width="0"/>
<circle cx="183.03" cy="407.49" r="1.4" fill="#000" stroke="none" stroke-width="0"/>
<circle cx="183.03" cy="409.5" r="1.4" fill="#000" stroke="none" stroke-width="0"/>
<circle cx="183.04" cy="411.45" r="1.4" fill="#000" stroke="none" stroke-width="0"/>
<circle cx="183.04" cy="413.34" r="1.4" fill="#000" stroke="none" stroke-width="0"/>
<circle cx="183.05" cy="415.19" r="1.4" fill="#000" stroke="none" stroke-width="0"/>
<circle cx="183.05" cy="416.98" r="1.4" fill="#000" stroke="none" stroke-width="0"/>
<circle cx="183.05" cy="418.74" r="1.4" fill="#000" stroke="none" stroke-width="0"/>
<circle cx="183.06" cy="420.46" r="1.4" fill="#000" stroke="none" stroke-width="0"/>
<circle cx="183.06" cy="422.14" r="1.4" fill="#000" stroke="none" stroke-width="0"/>
<circle cx="183.06" cy="423.8" r="1.4" fill="#000" stroke="none" stroke-width="0"/>
<circle cx="183.07" cy="425.42" r="1.4" fill="#000" stroke="none" stroke-width="0"/>
<circle cx="183.07" cy="427.03" r="1.4" fill="#000" stroke="none" stroke-width="0"/>
<circle cx="183.07" cy="428.61" r="1.4" fill="#000" stroke="none" stroke-width="0"/>
<circle cx="183.08" cy="430.17" r="1.4" fill="#000" stroke="none" stroke-width="0"/>
<circle cx="183.08" cy="431.72" r="1.4" fill="#000" stroke="none" stroke-width="0"/>
<circle cx="183.09" cy="433.25" r="1.4" fill="#000" stroke="none" stroke-width="0"/>
<circle cx="183.09" cy="434.77" r="1.4" fill="#000" stroke="none" stroke-width="0"/>
<circle cx="183.09" cy="436.29" r="1.4" fill="#000" stroke="none" stroke-width="0"/>
<circle cx="183.1" cy="437.79" r="1.4" fill="#000" stroke="none" stroke-width="0"/>
<path d="M183.1 436 L183.13 439.46 L183.16 444.46 L183.22 450.13 L183.29 455.6 L183.4 460 L183.54 463.24 L183.7 465.89 L183.89 468.1 L184.12 470.03 L184.4 471.8 L184.73 473.39 L185.09 474.69 L185.51 475.77 L185.97 476.69 L186.5 477.5 L187.17 478.18 L187.97 478.7 L188.78 479.08 L189.5 479.37 L190 479.6 L198.6 479.6 L200 478.6 L200.12 478.1 L200.12 476.1 L200.13 474.1 L200.13 472.1 L200.14 470.1 L200.15 468.1 L200.16 466.1 L200.17 464.1 L200.18 462.1 L200.2 460.1 L200.22 458.1 L200.25 456.1 L200.28 454.1 L200.32 452.1 L200.37 450.1 L200.42 448.1 L200.49 446.1 L200.56 444.1 L200.65 442.1 L200.76 440.1 L200.88 438.1 L201.02 436.1 L201.19 434.1 L201.37 432.1 L201.57 430.1 L201.8 428.1 L202.04 426.1 L202.31 424.1 L202.6 422.1 L202.91 420.1 L203.24 418.1 L203.58 416.1 L203.93 414.1 L204.3 412.1 L204.68 410.1 L205.07 408.1 L205.47 406.1 L205.88 404.1 L206.29 402.1 L206.7 400.1 L207.12 398.1 L207.55 396.1 L207.97 394.1 L208.4 392.1 L208.83 390.1 L209.26 388.1 L209.7 386.1 L210.13 384.1 L210.57 382.1 L211.01 380.1 L211.45 378.1 L211.91 376.1 L212.38 374.1 L212.88 372.1 L213.39 370.1 L213.91 368.1 L214.46 366.1 L215.02 364.1 L215.6 362.1 L216.19 360.1 L216.8 358.1 L217.43 356.1 L218.08 354.1 L218.74 352.1 L219.42 350.1 L220.11 348.1 L220.83 346.1 L221.56 344.1 L222.3 342.1 L223.07 340.1 L223.85 338.1 L224.64 336.1 L225.46 334.1 L226.29 332.1 L227.14 330.1 L228 328.1 L228.88 326.1 L229.78 324.1 L230.69 322.1 L231.62 320.1 L232.57 318.1 L233.54 316.1 L234.52 314.1 L235.52 312.1 L236.53 310.1 L237.57 308.1 L238.61 306.1 L239.68 304.1" fill="none" stroke="#000" stroke-width="3.5" stroke-linejoin="round" stroke-linecap="round"/>
<path d="M239.68 304.1 L240.48 303.6 L245 303.6" fill="none" stroke="#000" stroke-width="3.0" stroke-linejoin="round" stroke-linecap="round"/>
<line x1="245" y1="303.6" x2="245.3" y2="440" stroke="#000" stroke-width="1.3"/>
<circle cx="245.01" cy="308.6" r="1.4" fill="#000" stroke="none" stroke-width="0"/>
<circle cx="245.03" cy="318.45" r="1.4" fill="#000" stroke="none" stroke-width="0"/>
<circle cx="245.05" cy="327.1" r="1.4" fill="#000" stroke="none" stroke-width="0"/>
<circle cx="245.07" cy="334.77" r="1.4" fill="#000" stroke="none" stroke-width="0"/>
<circle cx="245.08" cy="341.62" r="1.4" fill="#000" stroke="none" stroke-width="0"/>
<circle cx="245.1" cy="347.8" r="1.4" fill="#000" stroke="none" stroke-width="0"/>
<circle cx="245.11" cy="353.42" r="1.4" fill="#000" stroke="none" stroke-width="0"/>
<circle cx="245.12" cy="358.54" r="1.4" fill="#000" stroke="none" stroke-width="0"/>
<circle cx="245.13" cy="363.25" r="1.4" fill="#000" stroke="none" stroke-width="0"/>
<circle cx="245.14" cy="367.6" r="1.4" fill="#000" stroke="none" stroke-width="0"/>
<circle cx="245.15" cy="371.64" r="1.4" fill="#000" stroke="none" stroke-width="0"/>
<circle cx="245.16" cy="375.4" r="1.4" fill="#000" stroke="none" stroke-width="0"/>
<circle cx="245.17" cy="378.92" r="1.4" fill="#000" stroke="none" stroke-width="0"/>
<circle cx="245.17" cy="382.22" r="1.4" fill="#000" stroke="none" stroke-width="0"/>
<circle cx="245.18" cy="385.34" r="1.4" fill="#000" stroke="none" stroke-width="0"/>
<circle cx="245.19" cy="388.28" r="1.4" fill="#000" stroke="none" stroke-width="0"/>
<circle cx="245.19" cy="391.08" r="1.4" fill="#000" stroke="none" stroke-width="0"/>
<circle cx="245.2" cy="393.73" r="1.4" fill="#000" stroke="none" stroke-width="0"/>
<circle cx="245.2" cy="396.27" r="1.4" fill="#000" stroke="none" stroke-width="0"/>
<circle cx="245.21" cy="398.69" r="1.4" fill="#000" stroke="none" stroke-width="0"/>
<circle cx="245.21" cy="401.02" r="1.4" fill="#000" stroke="none" stroke-width="0"/>
<circle cx="245.22" cy="403.25" r="1.4" fill="#000" stroke="none" stroke-width="0"/>
<circle cx="245.22" cy="405.41" r="1.4" fill="#000" stroke="none" stroke-width="0"/>
<circle cx="245.23" cy="407.49" r="1.4" fill="#000" stroke="none" stroke-width="0"/>
<circle cx="245.23" cy="409.5" r="1.4" fill="#000" stroke="none" stroke-width="0"/>
<circle cx="245.24" cy="411.45" r="1.4" fill="#000" stroke="none" stroke-width="0"/>
<circle cx="245.24" cy="413.34" r="1.4" fill="#000" stroke="none" stroke-width="0"/>
<circle cx="245.25" cy="415.19" r="1.4" fill="#000" stroke="none" stroke-width="0"/>
<circle cx="245.25" cy="416.98" r="1.4" fill="#000" stroke="none" stroke-width="0"/>
<circle cx="245.25" cy="418.74" r="1.4" fill="#000" stroke="none" stroke-width="0"/>
<circle cx="245.26" cy="420.46" r="1.4" fill="#000" stroke="none" stroke-width="0"/>
<circle cx="245.26" cy="422.14" r="1.4" fill="#000" stroke="none" stroke-width="0"/>
<circle cx="245.26" cy="423.8" r="1.4" fill="#000" stroke="none" stroke-width="0"/>
<circle cx="245.27" cy="425.42" r="1.4" fill="#000" stroke="none" stroke-width="0"/>
<circle cx="245.27" cy="427.03" r="1.4" fill="#000" stroke="none" stroke-width="0"/>
<circle cx="245.27" cy="428.61" r="1.4" fill="#000" stroke="none" stroke-width="0"/>
<circle cx="245.28" cy="430.17" r="1.4" fill="#000" stroke="none" stroke-width="0"/>
<circle cx="245.28" cy="431.72" r="1.4" fill="#000" stroke="none" stroke-width="0"/>
<circle cx="245.29" cy="433.25" r="1.4" fill="#000" stroke="none" stroke-width="0"/>
<circle cx="245.29" cy="434.77" r="1.4" fill="#000" stroke="none" stroke-width="0"/>
<circle cx="245.29" cy="436.29" r="1.4" fill="#000" stroke="none" stroke-width="0"/>
<circle cx="245.3" cy="437.79" r="1.4" fill="#000" stroke="none" stroke-width="0"/>
<path d="M245.3 436 L245.34 439.49 L245.4 444.55 L245.47 450.26 L245.54 455.72 L245.6 460 L245.61 462.92 L245.59 465.09 L245.58 466.78 L245.63 468.29 L245.8 469.9 L246.08 471.66 L246.45 473.37 L246.89 474.97 L247.41 476.37 L248 477.5 L248.75 478.31 L249.66 478.84 L250.6 479.18 L251.43 479.4 L252 479.6 L257.7 479.6 L259.1 478.6 L259.22 478.1 L259.22 476.1 L259.23 474.1 L259.23 472.1 L259.24 470.1 L259.25 468.1 L259.26 466.1 L259.27 464.1 L259.29 462.1 L259.31 460.1 L259.33 458.1 L259.36 456.1 L259.39 454.1 L259.44 452.1 L259.48 450.1 L259.54 448.1 L259.61 446.1 L259.7 444.1 L259.79 442.1 L259.91 440.1 L260.04 438.1 L260.19 436.1 L260.36 434.1 L260.55 432.1 L260.77 430.1 L261.01 428.1 L261.28 426.1 L261.56 424.1 L261.87 422.1 L262.2 420.1 L262.55 418.1 L262.91 416.1 L263.29 414.1 L263.69 412.1 L264.1 410.1 L264.51 408.1 L264.94 406.1 L265.37 404.1 L265.81 402.1 L266.25 400.1 L266.7 398.1 L267.15 396.1 L267.61 394.1 L268.07 392.1 L268.53 390.1 L268.99 388.1 L269.45 386.1 L269.92 384.1 L270.38 382.1 L270.85 380.1 L271.32 378.1 L271.78 376.1 L272.25 374.1 L272.72 372.1 L273.19 370.1 L273.66 368.1 L274.13 366.1 L274.6 364.1 L275.07 362.1 L275.53 360.1 L276 358.1 L276.47 356.1 L276.94 354.1 L277.41 352.1 L277.88 350.1 L278.35 348.1 L278.82 346.1 L279.29 344.1 L279.76 342.1 L280.23 340.1 L280.7 338.1 L281.17 336.1 L281.64 334.1 L282.11 332.1 L282.58 330.1 L283.05 328.1 L283.52 326.1 L283.99 324.1 L284.46 322.1 L284.93 320.1 L285.4 318.1 L285.87 316.1 L286.34 314.1 L286.81 312.1 L287.28 310.1 L287.75 308.1 L288.22 306.1 L288.69 304.1" fill="none" stroke="#000" stroke-width="3.5" stroke-linejoin="round" stroke-linecap="round"/>
<path d="M288.69 304.1 L289.49 303.6 L295.9 303.6" fill="none" stroke="#000" stroke-width="3.0" stroke-linejoin="round" stroke-linecap="round"/>
<line x1="296" y1="303.6" x2="296.3" y2="440" stroke="#000" stroke-width="1.3"/>
<circle cx="296.01" cy="308.6" r="1.4" fill="#000" stroke="none" stroke-width="0"/>
<circle cx="296.03" cy="318.45" r="1.4" fill="#000" stroke="none" stroke-width="0"/>
<circle cx="296.05" cy="327.1" r="1.4" fill="#000" stroke="none" stroke-width="0"/>
<circle cx="296.07" cy="334.77" r="1.4" fill="#000" stroke="none" stroke-width="0"/>
<circle cx="296.08" cy="341.62" r="1.4" fill="#000" stroke="none" stroke-width="0"/>
<circle cx="296.1" cy="347.8" r="1.4" fill="#000" stroke="none" stroke-width="0"/>
<circle cx="296.11" cy="353.42" r="1.4" fill="#000" stroke="none" stroke-width="0"/>
<circle cx="296.12" cy="358.54" r="1.4" fill="#000" stroke="none" stroke-width="0"/>
<circle cx="296.13" cy="363.25" r="1.4" fill="#000" stroke="none" stroke-width="0"/>
<circle cx="296.14" cy="367.6" r="1.4" fill="#000" stroke="none" stroke-width="0"/>
<circle cx="296.15" cy="371.64" r="1.4" fill="#000" stroke="none" stroke-width="0"/>
<circle cx="296.16" cy="375.4" r="1.4" fill="#000" stroke="none" stroke-width="0"/>
<circle cx="296.17" cy="378.92" r="1.4" fill="#000" stroke="none" stroke-width="0"/>
<circle cx="296.17" cy="382.22" r="1.4" fill="#000" stroke="none" stroke-width="0"/>
<circle cx="296.18" cy="385.34" r="1.4" fill="#000" stroke="none" stroke-width="0"/>
<circle cx="296.19" cy="388.28" r="1.4" fill="#000" stroke="none" stroke-width="0"/>
<circle cx="296.19" cy="391.08" r="1.4" fill="#000" stroke="none" stroke-width="0"/>
<circle cx="296.2" cy="393.73" r="1.4" fill="#000" stroke="none" stroke-width="0"/>
<circle cx="296.2" cy="396.27" r="1.4" fill="#000" stroke="none" stroke-width="0"/>
<circle cx="296.21" cy="398.69" r="1.4" fill="#000" stroke="none" stroke-width="0"/>
<circle cx="296.21" cy="401.02" r="1.4" fill="#000" stroke="none" stroke-width="0"/>
<circle cx="296.22" cy="403.25" r="1.4" fill="#000" stroke="none" stroke-width="0"/>
<circle cx="296.22" cy="405.41" r="1.4" fill="#000" stroke="none" stroke-width="0"/>
<circle cx="296.23" cy="407.49" r="1.4" fill="#000" stroke="none" stroke-width="0"/>
<circle cx="296.23" cy="409.5" r="1.4" fill="#000" stroke="none" stroke-width="0"/>
<circle cx="296.24" cy="411.45" r="1.4" fill="#000" stroke="none" stroke-width="0"/>
<circle cx="296.24" cy="413.34" r="1.4" fill="#000" stroke="none" stroke-width="0"/>
<circle cx="296.25" cy="415.19" r="1.4" fill="#000" stroke="none" stroke-width="0"/>
<circle cx="296.25" cy="416.98" r="1.4" fill="#000" stroke="none" stroke-width="0"/>
<circle cx="296.25" cy="418.74" r="1.4" fill="#000" stroke="none" stroke-width="0"/>
<circle cx="296.26" cy="420.46" r="1.4" fill="#000" stroke="none" stroke-width="0"/>
<circle cx="296.26" cy="422.14" r="1.4" fill="#000" stroke="none" stroke-width="0"/>
<circle cx="296.26" cy="423.8" r="1.4" fill="#000" stroke="none" stroke-width="0"/>
<circle cx="296.27" cy="425.42" r="1.4" fill="#000" stroke="none" stroke-width="0"/>
<circle cx="296.27" cy="427.03" r="1.4" fill="#000" stroke="none" stroke-width="0"/>
<circle cx="296.27" cy="428.61" r="1.4" fill="#000" stroke="none" stroke-width="0"/>
<circle cx="296.28" cy="430.17" r="1.4" fill="#000" stroke="none" stroke-width="0"/>
<circle cx="296.28" cy="431.72" r="1.4" fill="#000" stroke="none" stroke-width="0"/>
<circle cx="296.29" cy="433.25" r="1.4" fill="#000" stroke="none" stroke-width="0"/>
<circle cx="296.29" cy="434.77" r="1.4" fill="#000" stroke="none" stroke-width="0"/>
<circle cx="296.29" cy="436.29" r="1.4" fill="#000" stroke="none" stroke-width="0"/>
<circle cx="296.3" cy="437.79" r="1.4" fill="#000" stroke="none" stroke-width="0"/>
<path d="M296.3 436 L296.33 439.46 L296.38 444.46 L296.44 450.13 L296.51 455.6 L296.6 460 L296.69 463.23 L296.78 465.87 L296.89 468.07 L297.06 469.99 L297.3 471.8 L297.62 473.47 L298.01 474.9 L298.45 476.12 L298.95 477.14 L299.5 478 L300.17 478.64 L300.97 479.05 L301.79 479.3 L302.5 479.46 L303 479.6 L305.3 479.6 L306.7 478.6 L306.81 478.1 L306.82 476.1 L306.82 474.1 L306.83 472.1 L306.83 470.1 L306.84 468.1 L306.85 466.1 L306.86 464.1 L306.87 462.1 L306.88 460.1 L306.9 458.1 L306.92 456.1 L306.95 454.1 L306.98 452.1 L307.02 450.1 L307.06 448.1 L307.12 446.1 L307.18 444.1 L307.25 442.1 L307.34 440.1 L307.44 438.1 L307.56 436.1 L307.69 434.1 L307.84 432.1 L308 430.1 L308.19 428.1 L308.39 426.1 L308.61 424.1 L308.85 422.1 L309.1 420.1 L309.37 418.1 L309.64 416.1 L309.94 414.1 L310.24 412.1 L310.55 410.1 L310.87 408.1 L311.19 406.1 L311.53 404.1 L311.86 402.1 L312.2 400.1 L312.55 398.1 L312.89 396.1 L313.24 394.1 L313.59 392.1 L313.94 390.1 L314.3 388.1 L314.65 386.1 L315.01 384.1 L315.37 382.1 L315.72 380.1 L316.08 378.1 L316.44 376.1 L316.8 374.1 L317.16 372.1 L317.51 370.1 L317.87 368.1 L318.23 366.1 L318.59 364.1 L318.95 362.1 L319.31 360.1 L319.67 358.1 L320.03 356.1 L320.39 354.1 L320.75 352.1 L321.11 350.1 L321.47 348.1 L321.83 346.1 L322.19 344.1 L322.55 342.1 L322.91 340.1 L323.27 338.1 L323.63 336.1 L323.99 334.1 L324.35 332.1 L324.71 330.1 L325.07 328.1 L325.43 326.1 L325.79 324.1 L326.15 322.1 L326.51 320.1 L326.87 318.1 L327.23 316.1 L327.59 314.1 L327.95 312.1 L328.31 310.1 L328.67 308.1 L329.03 306.1 L329.39 304.1" fill="none" stroke="#000" stroke-width="3.5" stroke-linejoin="round" stroke-linecap="round"/>
<path d="M329.39 304.1 L330.19 303.6 L337.9 303.6" fill="none" stroke="#000" stroke-width="3.0" stroke-linejoin="round" stroke-linecap="round"/>
<text x="346.8" y="297" font-family='"Liberation Sans", sans-serif' font-size="26" font-weight="bold" text-anchor="start" fill="#000">e</text>
<line x1="385.6" y1="508.7" x2="389.6" y2="508.7" stroke="#000" stroke-width="1.4"/>
<text x="381.5" y="513" font-family='"Liberation Sans", sans-serif' font-size="12.8" font-weight="bold" text-anchor="end" fill="#000" textLength="19.9" lengthAdjust="spacingAndGlyphs">400</text>
<line x1="385.6" y1="464.48" x2="389.6" y2="464.48" stroke="#000" stroke-width="1.4"/>
<text x="381.5" y="468.78" font-family='"Liberation Sans", sans-serif' font-size="12.8" font-weight="bold" text-anchor="end" fill="#000" textLength="19.9" lengthAdjust="spacingAndGlyphs">450</text>
<line x1="385.6" y1="420.26" x2="389.6" y2="420.26" stroke="#000" stroke-width="1.4"/>
<text x="381.5" y="424.56" font-family='"Liberation Sans", sans-serif' font-size="12.8" font-weight="bold" text-anchor="end" fill="#000" textLength="19.9" lengthAdjust="spacingAndGlyphs">500</text>
<line x1="385.6" y1="376.04" x2="389.6" y2="376.04" stroke="#000" stroke-width="1.4"/>
<text x="381.5" y="380.34" font-family='"Liberation Sans", sans-serif' font-size="12.8" font-weight="bold" text-anchor="end" fill="#000" textLength="19.9" lengthAdjust="spacingAndGlyphs">550</text>
<line x1="385.6" y1="331.82" x2="389.6" y2="331.82" stroke="#000" stroke-width="1.4"/>
<text x="381.5" y="336.12" font-family='"Liberation Sans", sans-serif' font-size="12.8" font-weight="bold" text-anchor="end" fill="#000" textLength="19.9" lengthAdjust="spacingAndGlyphs">600</text>
<line x1="385.6" y1="287.6" x2="389.6" y2="287.6" stroke="#000" stroke-width="1.4"/>
<text x="381.5" y="291.9" font-family='"Liberation Sans", sans-serif' font-size="12.8" font-weight="bold" text-anchor="end" fill="#000" textLength="19.9" lengthAdjust="spacingAndGlyphs">650</text>
<line x1="387.1" y1="486.59" x2="389.6" y2="486.59" stroke="#000" stroke-width="1.2"/>
<line x1="387.1" y1="442.37" x2="389.6" y2="442.37" stroke="#000" stroke-width="1.2"/>
<line x1="387.1" y1="398.15" x2="389.6" y2="398.15" stroke="#000" stroke-width="1.2"/>
<line x1="387.1" y1="353.93" x2="389.6" y2="353.93" stroke="#000" stroke-width="1.2"/>
<line x1="387.1" y1="309.71" x2="389.6" y2="309.71" stroke="#000" stroke-width="1.2"/>
<line x1="629.4" y1="508.8" x2="633.4" y2="508.8" stroke="#000" stroke-width="1.4"/>
<text x="636.6" y="513.1" font-family='"Liberation Sans", sans-serif' font-size="12.8" font-weight="bold" text-anchor="start" fill="#000" textLength="33.3" lengthAdjust="spacingAndGlyphs">1E8.0</text>
<line x1="629.4" y1="453.42" x2="633.4" y2="453.42" stroke="#000" stroke-width="1.4"/>
<text x="636.6" y="457.72" font-family='"Liberation Sans", sans-serif' font-size="12.8" font-weight="bold" text-anchor="start" fill="#000" textLength="33.3" lengthAdjust="spacingAndGlyphs">1E8.2</text>
<line x1="629.4" y1="398.04" x2="633.4" y2="398.04" stroke="#000" stroke-width="1.4"/>
<text x="636.6" y="402.34" font-family='"Liberation Sans", sans-serif' font-size="12.8" font-weight="bold" text-anchor="start" fill="#000" textLength="33.3" lengthAdjust="spacingAndGlyphs">1E8.4</text>
<line x1="629.4" y1="342.66" x2="633.4" y2="342.66" stroke="#000" stroke-width="1.4"/>
<text x="636.6" y="346.96" font-family='"Liberation Sans", sans-serif' font-size="12.8" font-weight="bold" text-anchor="start" fill="#000" textLength="33.3" lengthAdjust="spacingAndGlyphs">1E8.6</text>
<line x1="629.4" y1="287.28" x2="633.4" y2="287.28" stroke="#000" stroke-width="1.4"/>
<text x="636.6" y="291.58" font-family='"Liberation Sans", sans-serif' font-size="12.8" font-weight="bold" text-anchor="start" fill="#000" textLength="33.3" lengthAdjust="spacingAndGlyphs">1E8.8</text>
<line x1="630.9" y1="481.11" x2="633.4" y2="481.11" stroke="#000" stroke-width="1.2"/>
<line x1="630.9" y1="425.73" x2="633.4" y2="425.73" stroke="#000" stroke-width="1.2"/>
<line x1="630.9" y1="370.35" x2="633.4" y2="370.35" stroke="#000" stroke-width="1.2"/>
<line x1="630.9" y1="314.97" x2="633.4" y2="314.97" stroke="#000" stroke-width="1.2"/>
<line x1="406.9" y1="508.8" x2="406.9" y2="512.8" stroke="#000" stroke-width="1.4"/>
<text x="406.9" y="525.8" font-family='"Liberation Sans", sans-serif' font-size="12.8" font-weight="bold" text-anchor="middle" fill="#000" textLength="13.3" lengthAdjust="spacingAndGlyphs">20</text>
<line x1="441.7" y1="508.8" x2="441.7" y2="512.8" stroke="#000" stroke-width="1.4"/>
<text x="441.7" y="525.8" font-family='"Liberation Sans", sans-serif' font-size="12.8" font-weight="bold" text-anchor="middle" fill="#000" textLength="13.3" lengthAdjust="spacingAndGlyphs">30</text>
<line x1="476.5" y1="508.8" x2="476.5" y2="512.8" stroke="#000" stroke-width="1.4"/>
<text x="476.5" y="525.8" font-family='"Liberation Sans", sans-serif' font-size="12.8" font-weight="bold" text-anchor="middle" fill="#000" textLength="13.3" lengthAdjust="spacingAndGlyphs">40</text>
<line x1="511.3" y1="508.8" x2="511.3" y2="512.8" stroke="#000" stroke-width="1.4"/>
<text x="511.3" y="525.8" font-family='"Liberation Sans", sans-serif' font-size="12.8" font-weight="bold" text-anchor="middle" fill="#000" textLength="13.3" lengthAdjust="spacingAndGlyphs">50</text>
<line x1="546.1" y1="508.8" x2="546.1" y2="512.8" stroke="#000" stroke-width="1.4"/>
<text x="546.1" y="525.8" font-family='"Liberation Sans", sans-serif' font-size="12.8" font-weight="bold" text-anchor="middle" fill="#000" textLength="13.3" lengthAdjust="spacingAndGlyphs">60</text>
<line x1="580.9" y1="508.8" x2="580.9" y2="512.8" stroke="#000" stroke-width="1.4"/>
<text x="580.9" y="525.8" font-family='"Liberation Sans", sans-serif' font-size="12.8" font-weight="bold" text-anchor="middle" fill="#000" textLength="13.3" lengthAdjust="spacingAndGlyphs">70</text>
<line x1="615.7" y1="508.8" x2="615.7" y2="512.8" stroke="#000" stroke-width="1.4"/>
<text x="615.7" y="525.8" font-family='"Liberation Sans", sans-serif' font-size="12.8" font-weight="bold" text-anchor="middle" fill="#000" textLength="13.3" lengthAdjust="spacingAndGlyphs">80</text>
<line x1="424.3" y1="508.8" x2="424.3" y2="511.3" stroke="#000" stroke-width="1.2"/>
<line x1="459.1" y1="508.8" x2="459.1" y2="511.3" stroke="#000" stroke-width="1.2"/>
<line x1="493.9" y1="508.8" x2="493.9" y2="511.3" stroke="#000" stroke-width="1.2"/>
<line x1="528.7" y1="508.8" x2="528.7" y2="511.3" stroke="#000" stroke-width="1.2"/>
<line x1="563.5" y1="508.8" x2="563.5" y2="511.3" stroke="#000" stroke-width="1.2"/>
<line x1="598.3" y1="508.8" x2="598.3" y2="511.3" stroke="#000" stroke-width="1.2"/>
<text x="511.3" y="544.1" font-family='"Liberation Sans", sans-serif' font-size="13.2" font-weight="bold" text-anchor="middle" fill="#000" textLength="134.8" lengthAdjust="spacingAndGlyphs">Relative Humidity (%)</text>
<text x="355.5" y="397.4" font-family='"Liberation Sans", sans-serif' font-size="13.3" font-weight="bold" text-anchor="middle" fill="#000" textLength="114.5" lengthAdjust="spacingAndGlyphs" transform="rotate(-90 355.5 397.4)">Response (Ra/Rg)</text>
<text x="682.2" y="398" font-family='"Liberation Sans", sans-serif' font-size="13.3" font-weight="bold" text-anchor="middle" fill="#000" textLength="109.5" lengthAdjust="spacingAndGlyphs" transform="rotate(-90 682.2 398)">Resistance (ohm)</text>
<path d="M406.8 394.1 L441.7 356.3 L476.5 343.9 L511.5 320.2 L546.7 340.2 L581.5 427.3 L616 443.2" fill="none" stroke="#111" stroke-width="1.6" stroke-linejoin="round" stroke-linecap="round"/>
<line x1="406.8" y1="388.6" x2="406.8" y2="399.6" stroke="#000" stroke-width="1.1"/>
<line x1="404.6" y1="388.6" x2="409" y2="388.6" stroke="#000" stroke-width="1.2"/>
<line x1="404.6" y1="399.6" x2="409" y2="399.6" stroke="#000" stroke-width="1.2"/>
<circle cx="406.8" cy="394.1" r="1.5" fill="#777" stroke="#000" stroke-width="1.2"/>
<line x1="441.7" y1="355" x2="441.7" y2="357.6" stroke="#000" stroke-width="1.1"/>
<line x1="439.5" y1="355" x2="443.9" y2="355" stroke="#000" stroke-width="1.2"/>
<line x1="439.5" y1="357.6" x2="443.9" y2="357.6" stroke="#000" stroke-width="1.2"/>
<circle cx="441.7" cy="356.3" r="1.5" fill="#777" stroke="#000" stroke-width="1.2"/>
<line x1="476.5" y1="338.9" x2="476.5" y2="348.9" stroke="#000" stroke-width="1.1"/>
<line x1="474.3" y1="338.9" x2="478.7" y2="338.9" stroke="#000" stroke-width="1.2"/>
<line x1="474.3" y1="348.9" x2="478.7" y2="348.9" stroke="#000" stroke-width="1.2"/>
<circle cx="476.5" cy="343.9" r="1.5" fill="#777" stroke="#000" stroke-width="1.2"/>
<line x1="511.5" y1="317.6" x2="511.5" y2="322.8" stroke="#000" stroke-width="1.1"/>
<line x1="509.3" y1="317.6" x2="513.7" y2="317.6" stroke="#000" stroke-width="1.2"/>
<line x1="509.3" y1="322.8" x2="513.7" y2="322.8" stroke="#000" stroke-width="1.2"/>
<circle cx="511.5" cy="320.2" r="1.5" fill="#777" stroke="#000" stroke-width="1.2"/>
<line x1="546.7" y1="334" x2="546.7" y2="346.4" stroke="#000" stroke-width="1.1"/>
<line x1="544.5" y1="334" x2="548.9" y2="334" stroke="#000" stroke-width="1.2"/>
<line x1="544.5" y1="346.4" x2="548.9" y2="346.4" stroke="#000" stroke-width="1.2"/>
<circle cx="546.7" cy="340.2" r="1.5" fill="#777" stroke="#000" stroke-width="1.2"/>
<line x1="581.5" y1="425.8" x2="581.5" y2="428.8" stroke="#000" stroke-width="1.1"/>
<line x1="579.3" y1="425.8" x2="583.7" y2="425.8" stroke="#000" stroke-width="1.2"/>
<line x1="579.3" y1="428.8" x2="583.7" y2="428.8" stroke="#000" stroke-width="1.2"/>
<circle cx="581.5" cy="427.3" r="1.5" fill="#777" stroke="#000" stroke-width="1.2"/>
<line x1="616" y1="439.3" x2="616" y2="447.1" stroke="#000" stroke-width="1.1"/>
<line x1="613.8" y1="439.3" x2="618.2" y2="439.3" stroke="#000" stroke-width="1.2"/>
<line x1="613.8" y1="447.1" x2="618.2" y2="447.1" stroke="#000" stroke-width="1.2"/>
<circle cx="616" cy="443.2" r="1.5" fill="#777" stroke="#000" stroke-width="1.2"/>
<line x1="410.9" y1="324.18" x2="437.6" y2="332.52" stroke="#1e1ed2" stroke-width="1.5"/>
<line x1="445.4" y1="335.98" x2="472.8" y2="352.12" stroke="#1e1ed2" stroke-width="1.5"/>
<line x1="480.21" y1="356.47" x2="507.79" y2="372.63" stroke="#1e1ed2" stroke-width="1.5"/>
<line x1="514.15" y1="378.19" x2="544.05" y2="416.41" stroke="#1e1ed2" stroke-width="1.5"/>
<line x1="549" y1="423.44" x2="579.2" y2="471.26" stroke="#1e1ed2" stroke-width="1.5"/>
<line x1="584.32" y1="471.65" x2="613.18" y2="438.35" stroke="#1e1ed2" stroke-width="1.5"/>
<path d="M403.5 320.4 L410.1 320.4 L406.8 326.7 Z" fill="#1e1ed2"/>
<path d="M438.4 331.3 L445 331.3 L441.7 337.6 Z" fill="#1e1ed2"/>
<path d="M473.2 351.8 L479.8 351.8 L476.5 358.1 Z" fill="#1e1ed2"/>
<path d="M508.2 372.3 L514.8 372.3 L511.5 378.6 Z" fill="#1e1ed2"/>
<path d="M543.4 417.3 L550 417.3 L546.7 423.6 Z" fill="#1e1ed2"/>
<path d="M578.2 472.4 L584.8 472.4 L581.5 478.7 Z" fill="#1e1ed2"/>
<path d="M612.7 432.6 L619.3 432.6 L616 438.9 Z" fill="#1e1ed2"/>
<line x1="420.5" y1="428.8" x2="441.6" y2="428.8" stroke="#111" stroke-width="1.6"/>
<circle cx="431.1" cy="428.8" r="1.4" fill="#777" stroke="#000" stroke-width="1.1"/>
<text x="445.7" y="432.4" font-family='"Liberation Sans", sans-serif' font-size="13.1" font-weight="bold" text-anchor="start" fill="#000" textLength="62.7" lengthAdjust="spacingAndGlyphs">Response</text>
<line x1="420.5" y1="451.8" x2="427.2" y2="451.8" stroke="#1e1ed2" stroke-width="1.6"/>
<line x1="435" y1="451.8" x2="441.6" y2="451.8" stroke="#1e1ed2" stroke-width="1.6"/>
<path d="M428 449.5 L434.2 449.5 L431.1 455.8 Z" fill="#1e1ed2"/>
<text x="445.7" y="455.2" font-family='"Liberation Sans", sans-serif' font-size="13.1" font-weight="bold" text-anchor="start" fill="#000" textLength="69.8" lengthAdjust="spacingAndGlyphs">Resistance</text>
<text x="682.2" y="297" font-family='"Liberation Sans", sans-serif' font-size="27" font-weight="bold" text-anchor="start" fill="#000">f</text>
<line x1="724.3" y1="508.8" x2="728.3" y2="508.8" stroke="#000" stroke-width="1.4"/>
<text x="720.8" y="513.1" font-family='"Liberation Sans", sans-serif' font-size="12.8" font-weight="bold" text-anchor="end" fill="#000" textLength="20.2" lengthAdjust="spacingAndGlyphs">400</text>
<line x1="724.3" y1="464.56" x2="728.3" y2="464.56" stroke="#000" stroke-width="1.4"/>
<text x="720.8" y="468.86" font-family='"Liberation Sans", sans-serif' font-size="12.8" font-weight="bold" text-anchor="end" fill="#000" textLength="20.2" lengthAdjust="spacingAndGlyphs">450</text>
<line x1="724.3" y1="420.32" x2="728.3" y2="420.32" stroke="#000" stroke-width="1.4"/>
<text x="720.8" y="424.62" font-family='"Liberation Sans", sans-serif' font-size="12.8" font-weight="bold" text-anchor="end" fill="#000" textLength="20.2" lengthAdjust="spacingAndGlyphs">500</text>
<line x1="724.3" y1="376.08" x2="728.3" y2="376.08" stroke="#000" stroke-width="1.4"/>
<text x="720.8" y="380.38" font-family='"Liberation Sans", sans-serif' font-size="12.8" font-weight="bold" text-anchor="end" fill="#000" textLength="20.2" lengthAdjust="spacingAndGlyphs">550</text>
<line x1="724.3" y1="331.84" x2="728.3" y2="331.84" stroke="#000" stroke-width="1.4"/>
<text x="720.8" y="336.14" font-family='"Liberation Sans", sans-serif' font-size="12.8" font-weight="bold" text-anchor="end" fill="#000" textLength="20.2" lengthAdjust="spacingAndGlyphs">600</text>
<line x1="724.3" y1="287.6" x2="728.3" y2="287.6" stroke="#000" stroke-width="1.4"/>
<text x="720.8" y="291.9" font-family='"Liberation Sans", sans-serif' font-size="12.8" font-weight="bold" text-anchor="end" fill="#000" textLength="20.2" lengthAdjust="spacingAndGlyphs">650</text>
<line x1="725.8" y1="486.68" x2="728.3" y2="486.68" stroke="#000" stroke-width="1.2"/>
<line x1="725.8" y1="442.44" x2="728.3" y2="442.44" stroke="#000" stroke-width="1.2"/>
<line x1="725.8" y1="398.2" x2="728.3" y2="398.2" stroke="#000" stroke-width="1.2"/>
<line x1="725.8" y1="353.96" x2="728.3" y2="353.96" stroke="#000" stroke-width="1.2"/>
<line x1="725.8" y1="309.72" x2="728.3" y2="309.72" stroke="#000" stroke-width="1.2"/>
<line x1="968.5" y1="508.9" x2="972.5" y2="508.9" stroke="#000" stroke-width="1.4"/>
<text x="975.2" y="513.2" font-family='"Liberation Sans", sans-serif' font-size="12.8" font-weight="bold" text-anchor="start" fill="#000" textLength="33.6" lengthAdjust="spacingAndGlyphs">1E8.2</text>
<line x1="968.5" y1="453.48" x2="972.5" y2="453.48" stroke="#000" stroke-width="1.4"/>
<text x="975.2" y="457.78" font-family='"Liberation Sans", sans-serif' font-size="12.8" font-weight="bold" text-anchor="start" fill="#000" textLength="33.6" lengthAdjust="spacingAndGlyphs">1E8.4</text>
<line x1="968.5" y1="398.06" x2="972.5" y2="398.06" stroke="#000" stroke-width="1.4"/>
<text x="975.2" y="402.36" font-family='"Liberation Sans", sans-serif' font-size="12.8" font-weight="bold" text-anchor="start" fill="#000" textLength="33.6" lengthAdjust="spacingAndGlyphs">1E8.6</text>
<line x1="968.5" y1="342.64" x2="972.5" y2="342.64" stroke="#000" stroke-width="1.4"/>
<text x="975.2" y="346.94" font-family='"Liberation Sans", sans-serif' font-size="12.8" font-weight="bold" text-anchor="start" fill="#000" textLength="33.6" lengthAdjust="spacingAndGlyphs">1E8.8</text>
<line x1="968.5" y1="287.22" x2="972.5" y2="287.22" stroke="#000" stroke-width="1.4"/>
<text x="975.2" y="291.52" font-family='"Liberation Sans", sans-serif' font-size="12.8" font-weight="bold" text-anchor="start" fill="#000" textLength="33.6" lengthAdjust="spacingAndGlyphs">1E9.0</text>
<line x1="970" y1="481.19" x2="972.5" y2="481.19" stroke="#000" stroke-width="1.2"/>
<line x1="970" y1="425.77" x2="972.5" y2="425.77" stroke="#000" stroke-width="1.2"/>
<line x1="970" y1="370.35" x2="972.5" y2="370.35" stroke="#000" stroke-width="1.2"/>
<line x1="970" y1="314.93" x2="972.5" y2="314.93" stroke="#000" stroke-width="1.2"/>
<line x1="752.3" y1="508.9" x2="752.3" y2="512.9" stroke="#000" stroke-width="1.4"/>
<text x="752.3" y="526.2" font-family='"Liberation Sans", sans-serif' font-size="12.8" font-weight="bold" text-anchor="middle" fill="#000">8</text>
<line x1="801.18" y1="508.9" x2="801.18" y2="512.9" stroke="#000" stroke-width="1.4"/>
<text x="801.18" y="526.2" font-family='"Liberation Sans", sans-serif' font-size="12.8" font-weight="bold" text-anchor="middle" fill="#000" textLength="13.3" lengthAdjust="spacingAndGlyphs">16</text>
<line x1="850.06" y1="508.9" x2="850.06" y2="512.9" stroke="#000" stroke-width="1.4"/>
<text x="850.06" y="526.2" font-family='"Liberation Sans", sans-serif' font-size="12.8" font-weight="bold" text-anchor="middle" fill="#000" textLength="13.3" lengthAdjust="spacingAndGlyphs">24</text>
<line x1="898.94" y1="508.9" x2="898.94" y2="512.9" stroke="#000" stroke-width="1.4"/>
<text x="898.94" y="526.2" font-family='"Liberation Sans", sans-serif' font-size="12.8" font-weight="bold" text-anchor="middle" fill="#000" textLength="13.3" lengthAdjust="spacingAndGlyphs">32</text>
<line x1="947.82" y1="508.9" x2="947.82" y2="512.9" stroke="#000" stroke-width="1.4"/>
<text x="947.82" y="526.2" font-family='"Liberation Sans", sans-serif' font-size="12.8" font-weight="bold" text-anchor="middle" fill="#000" textLength="13.3" lengthAdjust="spacingAndGlyphs">40</text>
<line x1="776.74" y1="508.9" x2="776.74" y2="511.4" stroke="#000" stroke-width="1.2"/>
<line x1="825.62" y1="508.9" x2="825.62" y2="511.4" stroke="#000" stroke-width="1.2"/>
<line x1="874.5" y1="508.9" x2="874.5" y2="511.4" stroke="#000" stroke-width="1.2"/>
<line x1="923.38" y1="508.9" x2="923.38" y2="511.4" stroke="#000" stroke-width="1.2"/>
<text x="850.6" y="542.6" font-family='"Liberation Sans", sans-serif' font-size="12.9" font-weight="bold" text-anchor="middle" fill="#000" textLength="73.2" lengthAdjust="spacingAndGlyphs">Time (Days)</text>
<text x="694.3" y="398.3" font-family='"Liberation Sans", sans-serif' font-size="13.3" font-weight="bold" text-anchor="middle" fill="#000" textLength="113" lengthAdjust="spacingAndGlyphs" transform="rotate(-90 694.3 398.3)">Response (Ra/Rg)</text>
<text x="1021.1" y="397.9" font-family='"Liberation Sans", sans-serif' font-size="13.3" font-weight="bold" text-anchor="middle" fill="#000" textLength="109" lengthAdjust="spacingAndGlyphs" transform="rotate(-90 1021.1 397.9)">Resistance (ohm)</text>
<path d="M752.6 319 L801.8 328.5 L850.7 323.7 L899.2 366 L948.2 391.7" fill="none" stroke="#111" stroke-width="1.6" stroke-linejoin="round" stroke-linecap="round"/>
<line x1="752.6" y1="314.6" x2="752.6" y2="323.4" stroke="#000" stroke-width="1.1"/>
<line x1="750.4" y1="314.6" x2="754.8" y2="314.6" stroke="#000" stroke-width="1.2"/>
<line x1="750.4" y1="323.4" x2="754.8" y2="323.4" stroke="#000" stroke-width="1.2"/>
<circle cx="752.6" cy="319" r="1.5" fill="#777" stroke="#000" stroke-width="1.2"/>
<line x1="801.8" y1="325.5" x2="801.8" y2="331.5" stroke="#000" stroke-width="1.1"/>
<line x1="799.6" y1="325.5" x2="804" y2="325.5" stroke="#000" stroke-width="1.2"/>
<line x1="799.6" y1="331.5" x2="804" y2="331.5" stroke="#000" stroke-width="1.2"/>
<circle cx="801.8" cy="328.5" r="1.5" fill="#777" stroke="#000" stroke-width="1.2"/>
<line x1="850.7" y1="315.4" x2="850.7" y2="332" stroke="#000" stroke-width="1.1"/>
<line x1="848.5" y1="315.4" x2="852.9" y2="315.4" stroke="#000" stroke-width="1.2"/>
<line x1="848.5" y1="332" x2="852.9" y2="332" stroke="#000" stroke-width="1.2"/>
<circle cx="850.7" cy="323.7" r="1.5" fill="#777" stroke="#000" stroke-width="1.2"/>
<line x1="899.2" y1="360.5" x2="899.2" y2="371.5" stroke="#000" stroke-width="1.1"/>
<line x1="897" y1="360.5" x2="901.4" y2="360.5" stroke="#000" stroke-width="1.2"/>
<line x1="897" y1="371.5" x2="901.4" y2="371.5" stroke="#000" stroke-width="1.2"/>
<circle cx="899.2" cy="366" r="1.5" fill="#777" stroke="#000" stroke-width="1.2"/>
<line x1="948.2" y1="385.5" x2="948.2" y2="397.9" stroke="#000" stroke-width="1.1"/>
<line x1="946" y1="385.5" x2="950.4" y2="385.5" stroke="#000" stroke-width="1.2"/>
<line x1="946" y1="397.9" x2="950.4" y2="397.9" stroke="#000" stroke-width="1.2"/>
<circle cx="948.2" cy="391.7" r="1.5" fill="#777" stroke="#000" stroke-width="1.2"/>
<path d="M752.7 430.1 L801.6 430.1 L850.4 430.1 L899.2 430.1 L948 467.3" fill="none" stroke="#c8202a" stroke-width="1.4" stroke-linejoin="round" stroke-linecap="round"/>
<rect x="749.85" y="427.2" width="5.7" height="5.8" fill="#e4141e" stroke="none" stroke-width="0"/>
<rect x="798.75" y="427.2" width="5.7" height="5.8" fill="#e4141e" stroke="none" stroke-width="0"/>
<rect x="847.55" y="427.2" width="5.7" height="5.8" fill="#e4141e" stroke="none" stroke-width="0"/>
<rect x="896.35" y="427.2" width="5.7" height="5.8" fill="#e4141e" stroke="none" stroke-width="0"/>
<rect x="945.15" y="464.4" width="5.7" height="5.8" fill="#e4141e" stroke="none" stroke-width="0"/>
<line x1="743.1" y1="354.2" x2="769.2" y2="354.2" stroke="#111" stroke-width="1.6"/>
<circle cx="756.6" cy="354.2" r="1.4" fill="#777" stroke="#000" stroke-width="1.1"/>
<text x="774" y="358.9" font-family='"Liberation Sans", sans-serif' font-size="13.1" font-weight="bold" text-anchor="start" fill="#000" textLength="63" lengthAdjust="spacingAndGlyphs">Response</text>
<line x1="742.9" y1="453.3" x2="769.8" y2="453.3" stroke="#c8202a" stroke-width="1.4"/>
<rect x="753.8" y="450.9" width="4.8" height="4.8" fill="#e4141e" stroke="none" stroke-width="0"/>
<text x="775.7" y="457.1" font-family='"Liberation Sans", sans-serif' font-size="13.1" font-weight="bold" text-anchor="start" fill="#000" textLength="69.1" lengthAdjust="spacingAndGlyphs">Resistance</text>
<rect x="63.3" y="19.9" width="278.6" height="221.8" fill="none" stroke="#000" stroke-width="1.6"/>
<rect x="391.3" y="20.1" width="287.7" height="221.7" fill="none" stroke="#000" stroke-width="1.6"/>
<rect x="741.8" y="20.2" width="278.1" height="221.5" fill="none" stroke="#000" stroke-width="1.6"/>
<rect x="63.5" y="287.5" width="278.3" height="221.3" fill="none" stroke="#000" stroke-width="1.6"/>
<rect x="389.6" y="287.7" width="243.8" height="221.1" fill="none" stroke="#000" stroke-width="1.6"/>
<rect x="728.3" y="287.3" width="244.2" height="221.6" fill="none" stroke="#000" stroke-width="1.6"/>
</svg>
</body></html>
